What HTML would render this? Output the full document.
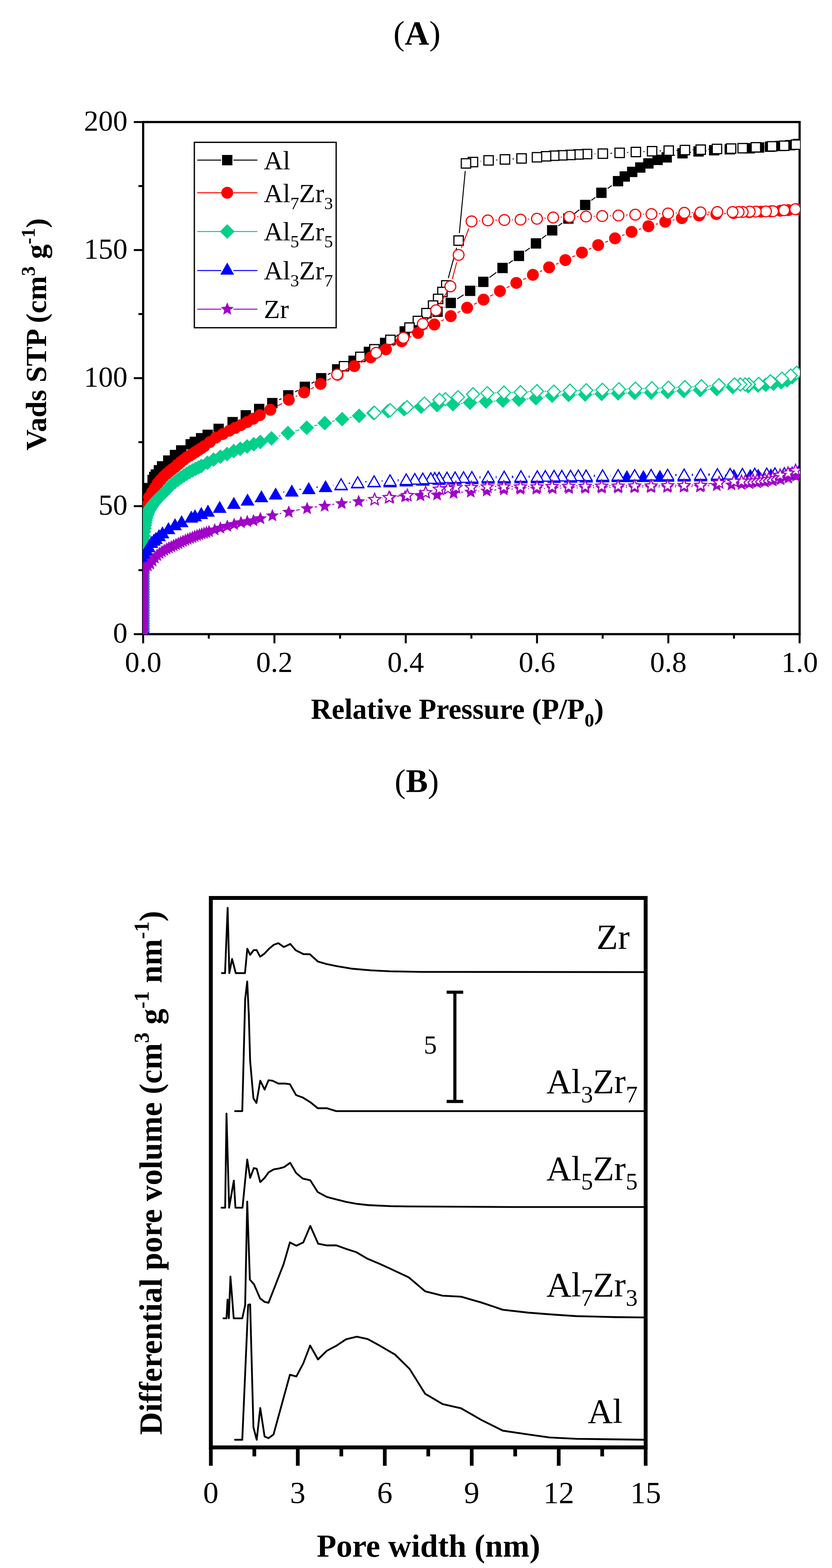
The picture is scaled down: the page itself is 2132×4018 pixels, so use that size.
<!DOCTYPE html>
<html><head><meta charset="utf-8"><title>Figure</title>
<style>html,body{margin:0;padding:0;background:#fff}svg{display:block}</style></head>
<body><svg width="2132" height="4018" viewBox="0 0 2132 4018">
<rect width="2132" height="4018" fill="#fff"/>
<text x="1068.5" y="114" text-anchor="middle" style="font-family:'Liberation Serif','Times New Roman',serif;font-size:87px">(<tspan font-weight="bold">A</tspan>)</text>
<rect x="366.8" y="312.7" width="1682.2" height="1312.3" fill="none" stroke="#000" stroke-width="5.6"/>
<path d="M366.8 1625.0V1648.5 M535.0 1625.0V1636.5 M703.2 1625.0V1648.5 M871.5 1625.0V1636.5 M1039.7 1625.0V1648.5 M1207.9 1625.0V1636.5 M1376.1 1625.0V1648.5 M1544.3 1625.0V1636.5 M1712.6 1625.0V1648.5 M1880.8 1625.0V1636.5 M2049.0 1625.0V1648.5 M366.8 1625.0H342.8 M366.8 1461.0H354.8 M366.8 1296.9H342.8 M366.8 1132.9H354.8 M366.8 968.9H342.8 M366.8 804.8H354.8 M366.8 640.8H342.8 M366.8 476.7H354.8 M366.8 312.7H342.8" stroke="#000" stroke-width="5" fill="none"/>
<defs><clipPath id="cpA"><rect x="366" y="300" width="1684" height="1325.8"/></clipPath></defs>
<g clip-path="url(#cpA)">
<path d="M715.3 1024.4L721.3 1021.5 M756.2 1004.1L763.7 1000.2 M798.4 982.2L805.7 978.4 M840.0 959.8L847.0 956.0 M881.3 937.5L888.7 933.5 M922.9 914.8L928.4 911.6 M962.4 892.5L969.8 888.3 M1003.7 868.9L1020.2 859.1 M1055.0 841.5L1057.0 840.6 M1090.7 821.4L1105.6 810.4 M1137.5 788.0L1138.9 787.1 M1171.6 765.9L1188.2 755.5 M1220.9 734.2L1222.3 733.3 M1254.3 710.9L1272.0 698.1 M1303.5 675.1L1314.1 667.4 M1345.5 644.3L1357.7 635.4 M1388.5 611.5L1399.8 602.4 M1430.7 578.7L1440.7 571.4 M1471.7 547.7L1484.4 537.5 M1515.2 513.5L1525.5 505.7 M1557.1 482.9L1567.7 475.5 M1727.3 398.2L1730.0 397.6 M1768.3 390.5L1770.6 390.2 M1809.4 386.5L1810.6 386.5 M1849.5 383.8L1850.5 383.7 M1889.5 381.5L1901.5 381.0" stroke="#000000" stroke-width="2.5" fill="none"/>
<path d="M355.8 1598.8h26.5v26.5h-26.5zM355.8 1585.8h26.5v26.5h-26.5zM355.8 1572.8h26.5v26.5h-26.5zM355.8 1559.8h26.5v26.5h-26.5zM355.8 1546.8h26.5v26.5h-26.5zM355.8 1533.8h26.5v26.5h-26.5zM355.8 1520.8h26.5v26.5h-26.5zM355.8 1507.8h26.5v26.5h-26.5zM355.8 1494.8h26.5v26.5h-26.5zM355.8 1481.8h26.5v26.5h-26.5zM355.8 1468.8h26.5v26.5h-26.5zM355.8 1455.8h26.5v26.5h-26.5zM355.8 1442.8h26.5v26.5h-26.5zM355.8 1429.8h26.5v26.5h-26.5zM355.8 1416.8h26.5v26.5h-26.5zM355.8 1403.8h26.5v26.5h-26.5zM355.8 1390.8h26.5v26.5h-26.5zM355.8 1377.8h26.5v26.5h-26.5zM355.8 1364.8h26.5v26.5h-26.5zM355.8 1351.8h26.5v26.5h-26.5zM355.8 1338.8h26.5v26.5h-26.5zM355.8 1325.8h26.5v26.5h-26.5zM355.8 1312.8h26.5v26.5h-26.5zM355.8 1299.8h26.5v26.5h-26.5zM355.8 1286.8h26.5v26.5h-26.5zM355.8 1273.8h26.5v26.5h-26.5zM355.8 1260.8h26.5v26.5h-26.5zM356.8 1239.8h26.5v26.5h-26.5zM369.6 1237.5h26.5v26.5h-26.5zM377.8 1216.8h26.5v26.5h-26.5zM381.9 1209.0h26.5v26.5h-26.5zM386.1 1202.7h26.5v26.5h-26.5zM393.9 1191.7h26.5v26.5h-26.5zM402.1 1181.8h26.5v26.5h-26.5zM417.9 1167.0h26.5v26.5h-26.5zM435.1 1152.7h26.5v26.5h-26.5zM451.1 1141.0h26.5v26.5h-26.5zM475.4 1125.2h26.5v26.5h-26.5zM485.9 1119.0h26.5v26.5h-26.5zM502.0 1109.8h26.5v26.5h-26.5zM519.0 1101.0h26.5v26.5h-26.5zM547.0 1085.8h26.5v26.5h-26.5zM582.8 1068.5h26.5v26.5h-26.5zM616.6 1051.0h26.5v26.5h-26.5zM650.9 1034.8h26.5v26.5h-26.5zM684.5 1019.7h26.5v26.5h-26.5zM725.5 999.8h26.5v26.5h-26.5zM767.9 978.0h26.5v26.5h-26.5zM809.8 956.0h26.5v26.5h-26.5zM850.8 933.2h26.5v26.5h-26.5zM892.8 911.2h26.5v26.5h-26.5zM932.0 888.6h26.5v26.5h-26.5zM973.6 865.6h26.5v26.5h-26.5zM1023.8 835.9h26.5v26.5h-26.5zM1061.8 819.8h26.5v26.5h-26.5zM1108.0 785.5h26.5v26.5h-26.5zM1141.8 763.0h26.5v26.5h-26.5zM1191.5 731.9h26.5v26.5h-26.5zM1225.2 709.1h26.5v26.5h-26.5zM1274.5 673.4h26.5v26.5h-26.5zM1316.5 642.6h26.5v26.5h-26.5zM1360.2 610.5h26.5v26.5h-26.5zM1401.7 576.9h26.5v26.5h-26.5zM1443.2 546.8h26.5v26.5h-26.5zM1486.3 512.0h26.5v26.5h-26.5zM1527.8 480.8h26.5v26.5h-26.5zM1570.5 451.1h26.5v26.5h-26.5zM1587.7 439.1h26.5v26.5h-26.5zM1606.8 427.2h26.5v26.5h-26.5zM1627.5 415.9h26.5v26.5h-26.5zM1648.3 405.4h26.5v26.5h-26.5zM1671.8 396.6h26.5v26.5h-26.5zM1695.2 389.9h26.5v26.5h-26.5zM1735.7 379.4h26.5v26.5h-26.5zM1776.8 374.8h26.5v26.5h-26.5zM1816.8 371.8h26.5v26.5h-26.5zM1856.8 369.2h26.5v26.5h-26.5zM1907.8 366.8h26.5v26.5h-26.5zM1931.8 364.8h26.5v26.5h-26.5zM1959.8 362.8h26.5v26.5h-26.5zM1986.8 360.8h26.5v26.5h-26.5zM2011.8 358.8h26.5v26.5h-26.5zM2031.8 355.8h26.5v26.5h-26.5z" fill="#000000"/>
<path d="M898.5 928.9L906.5 924.2 M940.6 905.2L942.3 904.3 M976.3 885.1L983.6 880.9 M1016.8 860.4L1032.9 850.1 M1148.8 712.5L1170.0 635.2 M1177.1 597.0L1192.2 438.2 M1231.4 413.2L1232.6 413.1 M1271.5 409.9L1274.5 409.7 M1313.5 407.4L1317.0 407.1 M1523.8 394.3L1525.3 394.3 M1564.3 392.9L1568.4 392.6 M1607.4 390.7L1609.9 390.6 M1648.9 388.6L1651.5 388.5 M1690.5 386.8L1694.1 386.7 M1733.1 385.2L1735.6 385.2 M1774.6 383.9L1776.1 383.9 M1815.1 382.7L1817.7 382.5 M1956.4 376.4L1958.9 376.3" stroke="#000000" stroke-width="2.5" fill="none"/>
<path d="M2027.5 358.8h24.0v24.0h-24.0z" fill="#fff" stroke="#000000" stroke-width="3"/>
<path d="M1997.6 361.5h24.0v24.0h-24.0z" fill="#fff" stroke="#000000" stroke-width="3"/>
<path d="M1966.4 363.1h24.0v24.0h-24.0z" fill="#fff" stroke="#000000" stroke-width="3"/>
<path d="M1924.9 365.6h24.0v24.0h-24.0z" fill="#fff" stroke="#000000" stroke-width="3"/>
<path d="M1891.1 367.7h24.0v24.0h-24.0z" fill="#fff" stroke="#000000" stroke-width="3"/>
<path d="M1861.5 368.8h24.0v24.0h-24.0z" fill="#fff" stroke="#000000" stroke-width="3"/>
<path d="M1825.2 369.8h24.0v24.0h-24.0z" fill="#fff" stroke="#000000" stroke-width="3"/>
<path d="M1783.6 371.4h24.0v24.0h-24.0z" fill="#fff" stroke="#000000" stroke-width="3"/>
<path d="M1743.1 372.4h24.0v24.0h-24.0z" fill="#fff" stroke="#000000" stroke-width="3"/>
<path d="M1701.6 374.0h24.0v24.0h-24.0z" fill="#fff" stroke="#000000" stroke-width="3"/>
<path d="M1659.0 375.5h24.0v24.0h-24.0z" fill="#fff" stroke="#000000" stroke-width="3"/>
<path d="M1617.4 377.6h24.0v24.0h-24.0z" fill="#fff" stroke="#000000" stroke-width="3"/>
<path d="M1575.9 379.7h24.0v24.0h-24.0z" fill="#fff" stroke="#000000" stroke-width="3"/>
<path d="M1532.8 381.8h24.0v24.0h-24.0z" fill="#fff" stroke="#000000" stroke-width="3"/>
<path d="M1492.3 382.8h24.0v24.0h-24.0z" fill="#fff" stroke="#000000" stroke-width="3"/>
<path d="M1470.4 383.8h24.0v24.0h-24.0z" fill="#fff" stroke="#000000" stroke-width="3"/>
<path d="M1449.7 384.9h24.0v24.0h-24.0z" fill="#fff" stroke="#000000" stroke-width="3"/>
<path d="M1428.9 385.9h24.0v24.0h-24.0z" fill="#fff" stroke="#000000" stroke-width="3"/>
<path d="M1408.1 386.9h24.0v24.0h-24.0z" fill="#fff" stroke="#000000" stroke-width="3"/>
<path d="M1387.3 388.5h24.0v24.0h-24.0z" fill="#fff" stroke="#000000" stroke-width="3"/>
<path d="M1364.0 391.1h24.0v24.0h-24.0z" fill="#fff" stroke="#000000" stroke-width="3"/>
<path d="M1324.5 394.0h24.0v24.0h-24.0z" fill="#fff" stroke="#000000" stroke-width="3"/>
<path d="M1282.0 396.5h24.0v24.0h-24.0z" fill="#fff" stroke="#000000" stroke-width="3"/>
<path d="M1240.0 399.1h24.0v24.0h-24.0z" fill="#fff" stroke="#000000" stroke-width="3"/>
<path d="M1200.0 403.2h24.0v24.0h-24.0z" fill="#fff" stroke="#000000" stroke-width="3"/>
<path d="M1182.1 406.8h24.0v24.0h-24.0z" fill="#fff" stroke="#000000" stroke-width="3"/>
<path d="M1163.2 604.4h24.0v24.0h-24.0z" fill="#fff" stroke="#000000" stroke-width="3"/>
<path d="M1131.6 719.3h24.0v24.0h-24.0z" fill="#fff" stroke="#000000" stroke-width="3"/>
<path d="M1121.7 736.3h24.0v24.0h-24.0z" fill="#fff" stroke="#000000" stroke-width="3"/>
<path d="M1110.7 754.1h24.0v24.0h-24.0z" fill="#fff" stroke="#000000" stroke-width="3"/>
<path d="M1097.8 771.1h24.0v24.0h-24.0z" fill="#fff" stroke="#000000" stroke-width="3"/>
<path d="M1080.8 790.6h24.0v24.0h-24.0z" fill="#fff" stroke="#000000" stroke-width="3"/>
<path d="M1058.8 810.5h24.0v24.0h-24.0z" fill="#fff" stroke="#000000" stroke-width="3"/>
<path d="M1037.3 827.5h24.0v24.0h-24.0z" fill="#fff" stroke="#000000" stroke-width="3"/>
<path d="M988.4 859.0h24.0v24.0h-24.0z" fill="#fff" stroke="#000000" stroke-width="3"/>
<path d="M947.5 883.0h24.0v24.0h-24.0z" fill="#fff" stroke="#000000" stroke-width="3"/>
<path d="M911.4 902.5h24.0v24.0h-24.0z" fill="#fff" stroke="#000000" stroke-width="3"/>
<path d="M869.6 926.6h24.0v24.0h-24.0z" fill="#fff" stroke="#000000" stroke-width="3"/>
<path d="M710.0 1040.8L722.9 1033.8 M757.6 1016.0L761.7 1014.0 M796.6 996.6L804.2 992.7 M838.7 974.6L847.8 969.7 M882.3 951.6L890.7 947.2 M925.2 929.1L932.8 925.0 M967.3 906.7L971.7 904.4 M1006.3 886.4L1011.9 883.5 M1046.6 865.7L1053.8 862.0 M1088.5 844.2L1095.8 840.5 M1130.5 822.7L1137.7 819.0 M1172.5 801.2L1179.7 797.5 M1214.6 779.9L1221.6 776.4 M1256.4 758.7L1263.7 755.0 M1298.4 737.3L1305.6 733.7 M1340.5 716.5L1348.1 712.8 M1383.3 696.1L1389.4 693.3 M1424.9 677.1L1430.9 674.4 M1466.5 658.4L1473.5 655.2 M1509.0 639.0L1515.1 636.2 M1550.9 620.8L1557.8 618.0 M1594.1 603.7L1600.3 601.3 M1637.0 588.0L1643.1 585.9 M1680.5 574.7L1685.8 573.3 M1723.7 564.1L1728.3 563.1 M1766.6 556.0L1772.2 555.1 M1810.9 550.6L1816.2 550.1 M1855.1 547.4L1860.5 547.1 M1899.5 545.0L1900.5 545.0" stroke="#FF0000" stroke-width="2.5" fill="none"/>
<path d="M346.8 1612.0a15.2 15.2 0 1 0 30.5 0a15.2 15.2 0 1 0 -30.5 0zM346.8 1599.0a15.2 15.2 0 1 0 30.5 0a15.2 15.2 0 1 0 -30.5 0zM346.8 1586.0a15.2 15.2 0 1 0 30.5 0a15.2 15.2 0 1 0 -30.5 0zM346.8 1573.0a15.2 15.2 0 1 0 30.5 0a15.2 15.2 0 1 0 -30.5 0zM346.8 1560.0a15.2 15.2 0 1 0 30.5 0a15.2 15.2 0 1 0 -30.5 0zM346.8 1547.0a15.2 15.2 0 1 0 30.5 0a15.2 15.2 0 1 0 -30.5 0zM346.8 1534.0a15.2 15.2 0 1 0 30.5 0a15.2 15.2 0 1 0 -30.5 0zM346.8 1521.0a15.2 15.2 0 1 0 30.5 0a15.2 15.2 0 1 0 -30.5 0zM346.8 1508.0a15.2 15.2 0 1 0 30.5 0a15.2 15.2 0 1 0 -30.5 0zM346.8 1495.0a15.2 15.2 0 1 0 30.5 0a15.2 15.2 0 1 0 -30.5 0zM346.8 1482.0a15.2 15.2 0 1 0 30.5 0a15.2 15.2 0 1 0 -30.5 0zM346.8 1469.0a15.2 15.2 0 1 0 30.5 0a15.2 15.2 0 1 0 -30.5 0zM346.8 1456.0a15.2 15.2 0 1 0 30.5 0a15.2 15.2 0 1 0 -30.5 0zM346.8 1443.0a15.2 15.2 0 1 0 30.5 0a15.2 15.2 0 1 0 -30.5 0zM346.8 1430.0a15.2 15.2 0 1 0 30.5 0a15.2 15.2 0 1 0 -30.5 0zM346.8 1417.0a15.2 15.2 0 1 0 30.5 0a15.2 15.2 0 1 0 -30.5 0zM346.8 1404.0a15.2 15.2 0 1 0 30.5 0a15.2 15.2 0 1 0 -30.5 0zM346.8 1391.0a15.2 15.2 0 1 0 30.5 0a15.2 15.2 0 1 0 -30.5 0zM346.8 1378.0a15.2 15.2 0 1 0 30.5 0a15.2 15.2 0 1 0 -30.5 0zM346.8 1365.0a15.2 15.2 0 1 0 30.5 0a15.2 15.2 0 1 0 -30.5 0zM346.8 1352.0a15.2 15.2 0 1 0 30.5 0a15.2 15.2 0 1 0 -30.5 0zM346.8 1339.0a15.2 15.2 0 1 0 30.5 0a15.2 15.2 0 1 0 -30.5 0zM346.8 1326.0a15.2 15.2 0 1 0 30.5 0a15.2 15.2 0 1 0 -30.5 0zM346.8 1313.0a15.2 15.2 0 1 0 30.5 0a15.2 15.2 0 1 0 -30.5 0zM346.8 1300.0a15.2 15.2 0 1 0 30.5 0a15.2 15.2 0 1 0 -30.5 0zM352.8 1298.0a15.2 15.2 0 1 0 30.5 0a15.2 15.2 0 1 0 -30.5 0zM366.8 1274.0a15.2 15.2 0 1 0 30.5 0a15.2 15.2 0 1 0 -30.5 0zM374.1 1261.7a15.2 15.2 0 1 0 30.5 0a15.2 15.2 0 1 0 -30.5 0zM381.6 1249.7a15.2 15.2 0 1 0 30.5 0a15.2 15.2 0 1 0 -30.5 0zM388.9 1238.3a15.2 15.2 0 1 0 30.5 0a15.2 15.2 0 1 0 -30.5 0zM396.4 1229.8a15.2 15.2 0 1 0 30.5 0a15.2 15.2 0 1 0 -30.5 0zM403.8 1221.3a15.2 15.2 0 1 0 30.5 0a15.2 15.2 0 1 0 -30.5 0zM411.1 1214.4a15.2 15.2 0 1 0 30.5 0a15.2 15.2 0 1 0 -30.5 0zM418.6 1208.2a15.2 15.2 0 1 0 30.5 0a15.2 15.2 0 1 0 -30.5 0zM425.9 1202.6a15.2 15.2 0 1 0 30.5 0a15.2 15.2 0 1 0 -30.5 0zM433.4 1197.0a15.2 15.2 0 1 0 30.5 0a15.2 15.2 0 1 0 -30.5 0zM440.8 1190.4a15.2 15.2 0 1 0 30.5 0a15.2 15.2 0 1 0 -30.5 0zM448.1 1183.9a15.2 15.2 0 1 0 30.5 0a15.2 15.2 0 1 0 -30.5 0zM455.6 1178.0a15.2 15.2 0 1 0 30.5 0a15.2 15.2 0 1 0 -30.5 0zM462.9 1172.3a15.2 15.2 0 1 0 30.5 0a15.2 15.2 0 1 0 -30.5 0zM470.4 1167.8a15.2 15.2 0 1 0 30.5 0a15.2 15.2 0 1 0 -30.5 0zM477.8 1163.4a15.2 15.2 0 1 0 30.5 0a15.2 15.2 0 1 0 -30.5 0zM485.1 1158.6a15.2 15.2 0 1 0 30.5 0a15.2 15.2 0 1 0 -30.5 0zM492.6 1153.8a15.2 15.2 0 1 0 30.5 0a15.2 15.2 0 1 0 -30.5 0zM500.0 1148.9a15.2 15.2 0 1 0 30.5 0a15.2 15.2 0 1 0 -30.5 0zM508.2 1143.2a15.2 15.2 0 1 0 30.5 0a15.2 15.2 0 1 0 -30.5 0zM522.4 1132.7a15.2 15.2 0 1 0 30.5 0a15.2 15.2 0 1 0 -30.5 0zM538.1 1121.2a15.2 15.2 0 1 0 30.5 0a15.2 15.2 0 1 0 -30.5 0zM555.6 1112.2a15.2 15.2 0 1 0 30.5 0a15.2 15.2 0 1 0 -30.5 0zM572.4 1103.8a15.2 15.2 0 1 0 30.5 0a15.2 15.2 0 1 0 -30.5 0zM587.2 1096.6a15.2 15.2 0 1 0 30.5 0a15.2 15.2 0 1 0 -30.5 0zM602.1 1089.3a15.2 15.2 0 1 0 30.5 0a15.2 15.2 0 1 0 -30.5 0zM618.0 1081.4a15.2 15.2 0 1 0 30.5 0a15.2 15.2 0 1 0 -30.5 0zM633.8 1072.9a15.2 15.2 0 1 0 30.5 0a15.2 15.2 0 1 0 -30.5 0zM650.5 1063.7a15.2 15.2 0 1 0 30.5 0a15.2 15.2 0 1 0 -30.5 0zM677.6 1050.1a15.2 15.2 0 1 0 30.5 0a15.2 15.2 0 1 0 -30.5 0zM724.8 1024.5a15.2 15.2 0 1 0 30.5 0a15.2 15.2 0 1 0 -30.5 0zM764.0 1005.5a15.2 15.2 0 1 0 30.5 0a15.2 15.2 0 1 0 -30.5 0zM806.2 983.8a15.2 15.2 0 1 0 30.5 0a15.2 15.2 0 1 0 -30.5 0zM849.8 960.5a15.2 15.2 0 1 0 30.5 0a15.2 15.2 0 1 0 -30.5 0zM892.8 938.3a15.2 15.2 0 1 0 30.5 0a15.2 15.2 0 1 0 -30.5 0zM934.8 915.8a15.2 15.2 0 1 0 30.5 0a15.2 15.2 0 1 0 -30.5 0zM973.8 895.3a15.2 15.2 0 1 0 30.5 0a15.2 15.2 0 1 0 -30.5 0zM1014.0 874.6a15.2 15.2 0 1 0 30.5 0a15.2 15.2 0 1 0 -30.5 0zM1056.0 853.1a15.2 15.2 0 1 0 30.5 0a15.2 15.2 0 1 0 -30.5 0zM1097.8 831.6a15.2 15.2 0 1 0 30.5 0a15.2 15.2 0 1 0 -30.5 0zM1139.8 810.1a15.2 15.2 0 1 0 30.5 0a15.2 15.2 0 1 0 -30.5 0zM1181.8 788.6a15.2 15.2 0 1 0 30.5 0a15.2 15.2 0 1 0 -30.5 0zM1223.8 767.7a15.2 15.2 0 1 0 30.5 0a15.2 15.2 0 1 0 -30.5 0zM1265.8 746.0a15.2 15.2 0 1 0 30.5 0a15.2 15.2 0 1 0 -30.5 0zM1307.8 725.0a15.2 15.2 0 1 0 30.5 0a15.2 15.2 0 1 0 -30.5 0zM1350.3 704.3a15.2 15.2 0 1 0 30.5 0a15.2 15.2 0 1 0 -30.5 0zM1391.8 685.1a15.2 15.2 0 1 0 30.5 0a15.2 15.2 0 1 0 -30.5 0zM1433.5 666.4a15.2 15.2 0 1 0 30.5 0a15.2 15.2 0 1 0 -30.5 0zM1476.0 647.2a15.2 15.2 0 1 0 30.5 0a15.2 15.2 0 1 0 -30.5 0zM1517.5 628.0a15.2 15.2 0 1 0 30.5 0a15.2 15.2 0 1 0 -30.5 0zM1560.7 610.8a15.2 15.2 0 1 0 30.5 0a15.2 15.2 0 1 0 -30.5 0zM1603.2 594.2a15.2 15.2 0 1 0 30.5 0a15.2 15.2 0 1 0 -30.5 0zM1646.3 579.7a15.2 15.2 0 1 0 30.5 0a15.2 15.2 0 1 0 -30.5 0zM1689.5 568.3a15.2 15.2 0 1 0 30.5 0a15.2 15.2 0 1 0 -30.5 0zM1732.0 558.9a15.2 15.2 0 1 0 30.5 0a15.2 15.2 0 1 0 -30.5 0zM1776.2 552.2a15.2 15.2 0 1 0 30.5 0a15.2 15.2 0 1 0 -30.5 0zM1820.3 548.5a15.2 15.2 0 1 0 30.5 0a15.2 15.2 0 1 0 -30.5 0zM1864.8 546.0a15.2 15.2 0 1 0 30.5 0a15.2 15.2 0 1 0 -30.5 0zM1904.8 544.0a15.2 15.2 0 1 0 30.5 0a15.2 15.2 0 1 0 -30.5 0zM1934.8 542.5a15.2 15.2 0 1 0 30.5 0a15.2 15.2 0 1 0 -30.5 0zM1959.8 541.5a15.2 15.2 0 1 0 30.5 0a15.2 15.2 0 1 0 -30.5 0zM1984.8 540.0a15.2 15.2 0 1 0 30.5 0a15.2 15.2 0 1 0 -30.5 0zM2004.8 538.5a15.2 15.2 0 1 0 30.5 0a15.2 15.2 0 1 0 -30.5 0zM2026.8 536.0a15.2 15.2 0 1 0 30.5 0a15.2 15.2 0 1 0 -30.5 0z" fill="#FF0000"/>
<path d="M881.0 950.0L946.9 913.5 M981.1 894.6L1016.7 874.9 M1049.6 854.1L1067.7 841.2 M1097.1 815.9L1103.9 808.9 M1127.5 778.3L1144.1 750.6 M1159.0 715.0L1170.3 672.2 M1182.2 635.1L1201.4 585.5 M1227.9 566.1L1230.5 565.9 M1269.5 564.2L1272.9 564.2 M1311.9 563.2L1314.4 563.2 M1353.4 561.7L1356.4 561.5 M1395.3 559.1L1398.1 558.8 M1437.0 556.7L1439.6 556.5 M1478.6 555.3L1482.2 555.3 M1521.2 554.3L1523.7 554.2 M1562.7 553.0L1565.3 552.9 M1604.3 551.3L1608.4 551.0 M1647.4 549.3L1649.9 549.3 M1688.9 547.8L1692.5 547.7 M1731.5 546.3L1734.1 546.1 M1773.1 544.9L1775.6 544.9 M1814.6 543.9L1818.7 543.8" stroke="#FF0000" stroke-width="2.5" fill="none"/>
<path d="M2024.1 536.1a13.8 13.8 0 1 0 27.6 0a13.8 13.8 0 1 0 -27.6 0z" fill="#fff" stroke="#FF0000" stroke-width="3"/>
<path d="M1995.5 538.7a13.8 13.8 0 1 0 27.6 0a13.8 13.8 0 1 0 -27.6 0z" fill="#fff" stroke="#FF0000" stroke-width="3"/>
<path d="M1966.9 541.3a13.8 13.8 0 1 0 27.6 0a13.8 13.8 0 1 0 -27.6 0z" fill="#fff" stroke="#FF0000" stroke-width="3"/>
<path d="M1948.9 541.8a13.8 13.8 0 1 0 27.6 0a13.8 13.8 0 1 0 -27.6 0z" fill="#fff" stroke="#FF0000" stroke-width="3"/>
<path d="M1922.9 542.3a13.8 13.8 0 1 0 27.6 0a13.8 13.8 0 1 0 -27.6 0z" fill="#fff" stroke="#FF0000" stroke-width="3"/>
<path d="M1907.3 542.3a13.8 13.8 0 1 0 27.6 0a13.8 13.8 0 1 0 -27.6 0z" fill="#fff" stroke="#FF0000" stroke-width="3"/>
<path d="M1889.3 543.3a13.8 13.8 0 1 0 27.6 0a13.8 13.8 0 1 0 -27.6 0z" fill="#fff" stroke="#FF0000" stroke-width="3"/>
<path d="M1878.9 543.3a13.8 13.8 0 1 0 27.6 0a13.8 13.8 0 1 0 -27.6 0z" fill="#fff" stroke="#FF0000" stroke-width="3"/>
<path d="M1863.4 543.3a13.8 13.8 0 1 0 27.6 0a13.8 13.8 0 1 0 -27.6 0z" fill="#fff" stroke="#FF0000" stroke-width="3"/>
<path d="M1824.4 543.3a13.8 13.8 0 1 0 27.6 0a13.8 13.8 0 1 0 -27.6 0z" fill="#fff" stroke="#FF0000" stroke-width="3"/>
<path d="M1781.3 544.4a13.8 13.8 0 1 0 27.6 0a13.8 13.8 0 1 0 -27.6 0z" fill="#fff" stroke="#FF0000" stroke-width="3"/>
<path d="M1739.8 545.4a13.8 13.8 0 1 0 27.6 0a13.8 13.8 0 1 0 -27.6 0z" fill="#fff" stroke="#FF0000" stroke-width="3"/>
<path d="M1698.2 547.0a13.8 13.8 0 1 0 27.6 0a13.8 13.8 0 1 0 -27.6 0z" fill="#fff" stroke="#FF0000" stroke-width="3"/>
<path d="M1655.6 548.5a13.8 13.8 0 1 0 27.6 0a13.8 13.8 0 1 0 -27.6 0z" fill="#fff" stroke="#FF0000" stroke-width="3"/>
<path d="M1614.1 550.1a13.8 13.8 0 1 0 27.6 0a13.8 13.8 0 1 0 -27.6 0z" fill="#fff" stroke="#FF0000" stroke-width="3"/>
<path d="M1571.0 552.2a13.8 13.8 0 1 0 27.6 0a13.8 13.8 0 1 0 -27.6 0z" fill="#fff" stroke="#FF0000" stroke-width="3"/>
<path d="M1529.4 553.7a13.8 13.8 0 1 0 27.6 0a13.8 13.8 0 1 0 -27.6 0z" fill="#fff" stroke="#FF0000" stroke-width="3"/>
<path d="M1487.9 554.8a13.8 13.8 0 1 0 27.6 0a13.8 13.8 0 1 0 -27.6 0z" fill="#fff" stroke="#FF0000" stroke-width="3"/>
<path d="M1445.3 555.8a13.8 13.8 0 1 0 27.6 0a13.8 13.8 0 1 0 -27.6 0z" fill="#fff" stroke="#FF0000" stroke-width="3"/>
<path d="M1403.7 557.4a13.8 13.8 0 1 0 27.6 0a13.8 13.8 0 1 0 -27.6 0z" fill="#fff" stroke="#FF0000" stroke-width="3"/>
<path d="M1362.1 560.5a13.8 13.8 0 1 0 27.6 0a13.8 13.8 0 1 0 -27.6 0z" fill="#fff" stroke="#FF0000" stroke-width="3"/>
<path d="M1320.1 562.7a13.8 13.8 0 1 0 27.6 0a13.8 13.8 0 1 0 -27.6 0z" fill="#fff" stroke="#FF0000" stroke-width="3"/>
<path d="M1278.6 563.7a13.8 13.8 0 1 0 27.6 0a13.8 13.8 0 1 0 -27.6 0z" fill="#fff" stroke="#FF0000" stroke-width="3"/>
<path d="M1236.2 564.7a13.8 13.8 0 1 0 27.6 0a13.8 13.8 0 1 0 -27.6 0z" fill="#fff" stroke="#FF0000" stroke-width="3"/>
<path d="M1194.6 567.3a13.8 13.8 0 1 0 27.6 0a13.8 13.8 0 1 0 -27.6 0z" fill="#fff" stroke="#FF0000" stroke-width="3"/>
<path d="M1161.4 653.3a13.8 13.8 0 1 0 27.6 0a13.8 13.8 0 1 0 -27.6 0z" fill="#fff" stroke="#FF0000" stroke-width="3"/>
<path d="M1140.3 733.9a13.8 13.8 0 1 0 27.6 0a13.8 13.8 0 1 0 -27.6 0z" fill="#fff" stroke="#FF0000" stroke-width="3"/>
<path d="M1103.7 795.0a13.8 13.8 0 1 0 27.6 0a13.8 13.8 0 1 0 -27.6 0z" fill="#fff" stroke="#FF0000" stroke-width="3"/>
<path d="M1069.7 829.8a13.8 13.8 0 1 0 27.6 0a13.8 13.8 0 1 0 -27.6 0z" fill="#fff" stroke="#FF0000" stroke-width="3"/>
<path d="M1020.0 865.5a13.8 13.8 0 1 0 27.6 0a13.8 13.8 0 1 0 -27.6 0z" fill="#fff" stroke="#FF0000" stroke-width="3"/>
<path d="M950.2 904.0a13.8 13.8 0 1 0 27.6 0a13.8 13.8 0 1 0 -27.6 0z" fill="#fff" stroke="#FF0000" stroke-width="3"/>
<path d="M850.1 959.5a13.8 13.8 0 1 0 27.6 0a13.8 13.8 0 1 0 -27.6 0z" fill="#fff" stroke="#FF0000" stroke-width="3"/>
<path d="M714.2 1117.3L719.2 1115.7 M756.6 1104.4L767.2 1101.4 M804.9 1091.3L813.2 1089.1 M851.1 1080.0L857.7 1078.4 M895.8 1070.3L901.1 1069.2 M1013.8 1051.2L1016.0 1050.9 M1054.7 1045.7L1059.6 1045.1 M1098.3 1040.4L1100.5 1040.1 M1139.4 1037.0L1141.3 1036.9 M1180.2 1034.1L1185.0 1033.7 M1223.8 1030.6L1225.9 1030.5 M1264.8 1027.9L1269.3 1027.6 M1308.3 1025.3L1310.3 1025.1 M1349.2 1022.4L1353.9 1022.0 M1392.6 1017.5L1395.5 1017.0 M1434.3 1013.0L1437.6 1012.9 M1476.6 1011.4L1479.9 1011.4 M1518.9 1010.2L1522.2 1010.1 M1561.2 1008.7L1564.5 1008.6 M1603.5 1007.5L1606.8 1007.4 M1645.8 1006.5L1649.0 1006.5 M1688.0 1005.3L1691.3 1005.2 M1730.3 1003.3L1732.6 1003.2 M1771.6 1000.8L1774.4 1000.7 M1813.4 998.4L1817.2 998.1 M1856.1 994.6L1858.1 994.4 M1897.0 990.8L1897.8 990.7" stroke="#00D08C" stroke-width="2.5" fill="none"/>
<path d="M366.5 1599.2L385.2 1618.0L366.5 1636.8L347.8 1618.0zM366.5 1592.5L385.2 1611.2L366.5 1630.0L347.8 1611.2zM366.5 1585.8L385.2 1604.5L366.5 1623.2L347.8 1604.5zM366.5 1579.0L385.2 1597.8L366.5 1616.5L347.8 1597.8zM366.5 1572.2L385.2 1591.0L366.5 1609.8L347.8 1591.0zM366.5 1565.5L385.2 1584.2L366.5 1603.0L347.8 1584.2zM366.5 1558.8L385.2 1577.5L366.5 1596.2L347.8 1577.5zM366.5 1552.0L385.2 1570.8L366.5 1589.5L347.8 1570.8zM366.5 1545.2L385.2 1564.0L366.5 1582.8L347.8 1564.0zM366.5 1538.5L385.2 1557.2L366.5 1576.0L347.8 1557.2zM366.5 1531.8L385.2 1550.5L366.5 1569.2L347.8 1550.5zM366.5 1525.0L385.2 1543.8L366.5 1562.5L347.8 1543.8zM366.5 1518.2L385.2 1537.0L366.5 1555.8L347.8 1537.0zM366.5 1511.5L385.2 1530.2L366.5 1549.0L347.8 1530.2zM366.5 1504.8L385.2 1523.5L366.5 1542.2L347.8 1523.5zM366.5 1498.0L385.2 1516.8L366.5 1535.5L347.8 1516.8zM366.5 1491.2L385.2 1510.0L366.5 1528.8L347.8 1510.0zM366.5 1484.5L385.2 1503.2L366.5 1522.0L347.8 1503.2zM366.5 1477.8L385.2 1496.5L366.5 1515.2L347.8 1496.5zM366.5 1471.0L385.2 1489.8L366.5 1508.5L347.8 1489.8zM366.5 1464.2L385.2 1483.0L366.5 1501.8L347.8 1483.0zM366.5 1457.5L385.2 1476.2L366.5 1495.0L347.8 1476.2zM366.5 1450.8L385.2 1469.5L366.5 1488.2L347.8 1469.5zM366.5 1444.0L385.2 1462.8L366.5 1481.5L347.8 1462.8zM366.5 1437.2L385.2 1456.0L366.5 1474.8L347.8 1456.0zM366.5 1430.5L385.2 1449.2L366.5 1468.0L347.8 1449.2zM366.5 1423.8L385.2 1442.5L366.5 1461.2L347.8 1442.5zM366.5 1417.0L385.2 1435.8L366.5 1454.5L347.8 1435.8zM366.5 1410.2L385.2 1429.0L366.5 1447.8L347.8 1429.0zM366.5 1403.5L385.2 1422.2L366.5 1441.0L347.8 1422.2zM366.5 1396.8L385.2 1415.5L366.5 1434.2L347.8 1415.5zM366.5 1390.0L385.2 1408.8L366.5 1427.5L347.8 1408.8zM366.5 1383.2L385.2 1402.0L366.5 1420.8L347.8 1402.0zM366.5 1376.5L385.2 1395.2L366.5 1414.0L347.8 1395.2zM368.0 1366.2L386.8 1385.0L368.0 1403.8L349.2 1385.0zM368.5 1354.8L387.2 1373.5L368.5 1392.2L349.8 1373.5zM369.0 1343.2L387.8 1362.0L369.0 1380.8L350.2 1362.0zM370.0 1335.2L388.8 1354.0L370.0 1372.8L351.2 1354.0zM371.0 1327.2L389.8 1346.0L371.0 1364.8L352.2 1346.0zM372.0 1320.8L390.8 1339.5L372.0 1358.2L353.2 1339.5zM373.0 1314.2L391.8 1333.0L373.0 1351.8L354.2 1333.0zM374.5 1308.2L393.2 1327.0L374.5 1345.8L355.8 1327.0zM376.0 1302.2L394.8 1321.0L376.0 1339.8L357.2 1321.0zM378.0 1297.2L396.8 1316.0L378.0 1334.8L359.2 1316.0zM380.0 1292.2L398.8 1311.0L380.0 1329.8L361.2 1311.0zM383.0 1287.2L401.8 1306.0L383.0 1324.8L364.2 1306.0zM386.0 1282.2L404.8 1301.0L386.0 1319.8L367.2 1301.0zM389.5 1277.2L408.2 1296.0L389.5 1314.8L370.8 1296.0zM393.0 1272.2L411.8 1291.0L393.0 1309.8L374.2 1291.0zM396.5 1268.2L415.2 1287.0L396.5 1305.8L377.8 1287.0zM400.0 1264.2L418.8 1283.0L400.0 1301.8L381.2 1283.0zM403.0 1260.8L421.8 1279.5L403.0 1298.2L384.2 1279.5zM406.0 1257.2L424.8 1276.0L406.0 1294.8L387.2 1276.0zM411.0 1252.7L429.8 1271.4L411.0 1290.2L392.2 1271.4zM418.5 1245.7L437.2 1264.5L418.5 1283.2L399.8 1264.5zM426.0 1237.6L444.8 1256.3L426.0 1275.1L407.2 1256.3zM433.5 1229.4L452.2 1248.2L433.5 1266.9L414.8 1248.2zM441.0 1221.5L459.8 1240.3L441.0 1259.0L422.2 1240.3zM448.5 1216.0L467.2 1234.8L448.5 1253.5L429.8 1234.8zM456.0 1210.5L474.8 1229.3L456.0 1248.0L437.2 1229.3zM463.5 1205.0L482.2 1223.8L463.5 1242.5L444.8 1223.8zM471.0 1199.7L489.8 1218.4L471.0 1237.2L452.2 1218.4zM478.5 1195.2L497.2 1213.9L478.5 1232.7L459.8 1213.9zM486.0 1190.7L504.8 1209.4L486.0 1228.2L467.2 1209.4zM493.5 1186.5L512.2 1205.2L493.5 1224.0L474.8 1205.2zM501.0 1182.7L519.8 1201.5L501.0 1220.2L482.2 1201.5zM508.5 1178.9L527.2 1197.7L508.5 1216.4L489.8 1197.7zM516.0 1175.2L534.8 1193.9L516.0 1212.7L497.2 1193.9zM531.4 1166.9L550.1 1185.7L531.4 1204.4L512.6 1185.7zM547.2 1159.1L566.0 1177.8L547.2 1196.6L528.5 1177.8zM564.8 1151.6L583.5 1170.3L564.8 1189.1L546.0 1170.3zM581.8 1144.8L600.5 1163.5L581.8 1182.3L563.0 1163.5zM599.0 1137.1L617.8 1155.9L599.0 1174.6L580.2 1155.9zM615.7 1131.2L634.5 1150.0L615.7 1168.7L597.0 1150.0zM633.2 1125.3L652.0 1144.1L633.2 1162.8L614.5 1144.1zM650.3 1119.5L669.0 1138.3L650.3 1157.0L631.5 1138.3zM667.1 1113.8L685.9 1132.5L667.1 1151.3L648.4 1132.5zM695.6 1104.6L714.4 1123.3L695.6 1142.1L676.9 1123.3zM737.8 1091.0L756.5 1109.7L737.8 1128.5L719.0 1109.7zM786.0 1077.3L804.8 1096.1L786.0 1114.8L767.2 1096.1zM832.1 1065.5L850.9 1084.3L832.1 1103.0L813.4 1084.3zM876.7 1055.3L895.5 1074.1L876.7 1092.8L858.0 1074.1zM920.2 1046.7L939.0 1065.4L920.2 1084.2L901.5 1065.4zM957.0 1039.8L975.8 1058.5L957.0 1077.2L938.2 1058.5zM994.4 1034.8L1013.1 1053.6L994.4 1072.3L975.6 1053.6zM1035.4 1029.8L1054.2 1048.5L1035.4 1067.2L1016.7 1048.5zM1078.9 1023.5L1097.7 1042.3L1078.9 1061.0L1060.2 1042.3zM1119.9 1019.5L1138.7 1038.2L1119.9 1057.0L1101.2 1038.2zM1160.8 1017.0L1179.5 1035.7L1160.8 1054.5L1142.0 1035.7zM1204.4 1013.3L1223.2 1032.1L1204.4 1050.8L1185.7 1032.1zM1245.3 1010.2L1264.0 1029.0L1245.3 1047.8L1226.5 1029.0zM1288.8 1007.8L1307.5 1026.5L1288.8 1045.2L1270.0 1026.5zM1329.8 1005.1L1348.5 1023.9L1329.8 1042.7L1311.0 1023.9zM1373.3 1001.8L1392.0 1020.5L1373.3 1039.2L1354.5 1020.5zM1414.8 995.2L1433.5 1014.0L1414.8 1032.8L1396.0 1014.0zM1457.1 993.1L1475.8 1011.9L1457.1 1030.7L1438.3 1011.9zM1499.4 992.1L1518.2 1010.9L1499.4 1029.7L1480.7 1010.9zM1541.7 990.6L1560.5 1009.4L1541.7 1028.2L1523.0 1009.4zM1584.0 989.1L1602.8 1007.9L1584.0 1026.7L1565.2 1007.9zM1626.3 988.2L1645.0 1007.0L1626.3 1025.8L1607.5 1007.0zM1668.5 987.2L1687.2 1006.0L1668.5 1024.8L1649.8 1006.0zM1710.8 985.8L1729.5 1004.5L1710.8 1023.2L1692.0 1004.5zM1752.1 983.2L1770.8 1002.0L1752.1 1020.8L1733.3 1002.0zM1793.9 980.8L1812.7 999.5L1793.9 1018.2L1775.2 999.5zM1836.7 978.2L1855.5 997.0L1836.7 1015.8L1818.0 997.0zM1877.5 973.2L1896.2 992.0L1877.5 1010.8L1858.8 992.0zM1917.3 970.8L1936.0 989.5L1917.3 1008.2L1898.5 989.5zM1942.2 969.2L1961.0 988.0L1942.2 1006.8L1923.5 988.0zM1962.2 967.2L1981.0 986.0L1962.2 1004.8L1943.5 986.0zM1982.0 964.4L2000.8 983.1L1982.0 1001.9L1963.2 983.1zM2001.8 960.9L2020.5 979.6L2001.8 998.4L1983.0 979.6zM2016.8 955.9L2035.5 974.6L2016.8 993.4L1998.0 974.6zM2030.0 947.8L2048.8 966.5L2030.0 985.2L2011.2 966.5zM2042.0 936.8L2060.8 955.5L2042.0 974.2L2023.2 955.5z" fill="#00D08C"/>
<path d="M978.8 1054.5L980.9 1054.2 M1019.3 1047.6L1023.9 1046.8 M1062.2 1039.5L1068.5 1038.1 M1268.4 1006.8L1271.9 1006.7 M1310.9 1005.5L1314.4 1005.5 M1353.4 1003.8L1356.4 1003.6 M1395.4 1002.9L1399.8 1003.0 M1438.8 1002.3L1441.1 1002.2 M1480.1 1000.5L1482.9 1000.5 M1521.9 999.5L1524.2 999.5 M1563.2 998.3L1566.5 998.2 M1605.5 996.8L1608.8 996.7 M1647.8 995.5L1651.0 995.5 M1690.0 994.3L1693.3 994.2 M1732.3 992.8L1735.6 992.7 M1774.6 991.1L1777.9 990.9 M1816.9 988.7L1822.7 988.4 M1861.7 986.1L1862.5 986.1" stroke="#00D08C" stroke-width="2.5" fill="none"/>
<path d="M2041.2 938.5L2057.9 955.2L2041.2 972.0L2024.5 955.2z" fill="#fff" stroke="#00D08C" stroke-width="3"/>
<path d="M2026.2 945.5L2043.0 962.2L2026.2 979.0L2009.5 962.2z" fill="#fff" stroke="#00D08C" stroke-width="3"/>
<path d="M2003.8 953.5L2020.5 970.2L2003.8 987.0L1987.0 970.2z" fill="#fff" stroke="#00D08C" stroke-width="3"/>
<path d="M1974.0 960.4L1990.8 977.1L1974.0 993.9L1957.2 977.1z" fill="#fff" stroke="#00D08C" stroke-width="3"/>
<path d="M1944.2 966.9L1961.0 983.6L1944.2 1000.4L1927.5 983.6z" fill="#fff" stroke="#00D08C" stroke-width="3"/>
<path d="M1919.0 968.4L1935.8 985.1L1919.0 1001.9L1902.2 985.1z" fill="#fff" stroke="#00D08C" stroke-width="3"/>
<path d="M1909.4 968.4L1926.2 985.1L1909.4 1001.9L1892.7 985.1z" fill="#fff" stroke="#00D08C" stroke-width="3"/>
<path d="M1897.0 968.4L1913.8 985.1L1897.0 1001.9L1880.2 985.1z" fill="#fff" stroke="#00D08C" stroke-width="3"/>
<path d="M1882.0 968.4L1898.8 985.1L1882.0 1001.9L1865.2 985.1z" fill="#fff" stroke="#00D08C" stroke-width="3"/>
<path d="M1842.2 970.4L1859.0 987.1L1842.2 1003.9L1825.5 987.1z" fill="#fff" stroke="#00D08C" stroke-width="3"/>
<path d="M1797.4 973.2L1814.2 990.0L1797.4 1006.8L1780.7 990.0z" fill="#fff" stroke="#00D08C" stroke-width="3"/>
<path d="M1755.1 975.2L1771.8 992.0L1755.1 1008.8L1738.3 992.0z" fill="#fff" stroke="#00D08C" stroke-width="3"/>
<path d="M1712.8 976.8L1729.5 993.5L1712.8 1010.2L1696.0 993.5z" fill="#fff" stroke="#00D08C" stroke-width="3"/>
<path d="M1670.5 978.2L1687.2 995.0L1670.5 1011.8L1653.8 995.0z" fill="#fff" stroke="#00D08C" stroke-width="3"/>
<path d="M1628.3 979.2L1645.0 996.0L1628.3 1012.8L1611.5 996.0z" fill="#fff" stroke="#00D08C" stroke-width="3"/>
<path d="M1586.0 980.8L1602.8 997.5L1586.0 1014.2L1569.2 997.5z" fill="#fff" stroke="#00D08C" stroke-width="3"/>
<path d="M1543.7 982.2L1560.5 999.0L1543.7 1015.8L1527.0 999.0z" fill="#fff" stroke="#00D08C" stroke-width="3"/>
<path d="M1502.4 983.2L1519.2 1000.0L1502.4 1016.8L1485.7 1000.0z" fill="#fff" stroke="#00D08C" stroke-width="3"/>
<path d="M1460.6 984.2L1477.3 1001.0L1460.6 1017.8L1443.8 1001.0z" fill="#fff" stroke="#00D08C" stroke-width="3"/>
<path d="M1419.3 986.8L1436.0 1003.5L1419.3 1020.2L1402.5 1003.5z" fill="#fff" stroke="#00D08C" stroke-width="3"/>
<path d="M1375.9 985.6L1392.7 1002.4L1375.9 1019.1L1359.2 1002.4z" fill="#fff" stroke="#00D08C" stroke-width="3"/>
<path d="M1333.9 988.2L1350.7 1005.0L1333.9 1021.8L1317.2 1005.0z" fill="#fff" stroke="#00D08C" stroke-width="3"/>
<path d="M1291.4 989.2L1308.2 1006.0L1291.4 1022.8L1274.7 1006.0z" fill="#fff" stroke="#00D08C" stroke-width="3"/>
<path d="M1248.9 990.8L1265.7 1007.5L1248.9 1024.2L1232.2 1007.5z" fill="#fff" stroke="#00D08C" stroke-width="3"/>
<path d="M1212.0 993.4L1228.8 1010.1L1212.0 1026.8L1195.2 1010.1z" fill="#fff" stroke="#00D08C" stroke-width="3"/>
<path d="M1173.6 1001.0L1190.3 1017.8L1173.6 1034.5L1156.8 1017.8z" fill="#fff" stroke="#00D08C" stroke-width="3"/>
<path d="M1141.4 1006.1L1158.2 1022.9L1141.4 1039.7L1124.7 1022.9z" fill="#fff" stroke="#00D08C" stroke-width="3"/>
<path d="M1126.0 1007.7L1142.8 1024.4L1126.0 1041.2L1109.2 1024.4z" fill="#fff" stroke="#00D08C" stroke-width="3"/>
<path d="M1087.6 1017.5L1104.3 1034.2L1087.6 1051.0L1070.8 1034.2z" fill="#fff" stroke="#00D08C" stroke-width="3"/>
<path d="M1043.1 1026.7L1059.8 1043.4L1043.1 1060.2L1026.3 1043.4z" fill="#fff" stroke="#00D08C" stroke-width="3"/>
<path d="M1000.1 1034.2L1016.9 1051.0L1000.1 1067.8L983.4 1051.0z" fill="#fff" stroke="#00D08C" stroke-width="3"/>
<path d="M959.6 1041.0L976.4 1057.7L959.6 1074.5L942.9 1057.7z" fill="#fff" stroke="#00D08C" stroke-width="3"/>
<path d="M725.6 1261.0L728.6 1260.5 M767.1 1254.2L771.8 1253.5 M810.5 1248.4L814.8 1247.9 M853.6 1243.4L854.7 1243.2 M893.5 1238.7L897.2 1238.2 M936.1 1234.7L939.1 1234.5 M978.1 1233.3L980.0 1233.3 M1019.0 1232.2L1021.5 1232.1 M1060.5 1230.1L1063.9 1229.9 M1102.9 1228.1L1105.7 1227.9 M1144.7 1226.5L1146.7 1226.5 M1185.7 1225.5L1189.7 1225.5 M1228.7 1224.5L1231.3 1224.5 M1270.3 1224.0L1272.5 1224.0 M1311.5 1223.5L1315.5 1223.5 M1354.5 1223.0L1357.4 1223.0 M1396.4 1222.5L1400.3 1222.5 M1439.3 1221.8L1442.6 1221.7 M1481.6 1221.3L1482.4 1221.2 M1521.4 1220.8L1524.7 1220.7 M1563.7 1220.3L1564.5 1220.2 M1625.9 1219.9L1629.2 1219.9 M1668.2 1219.5L1671.5 1219.5 M1730.3 1218.8L1733.6 1218.7 M1772.6 1218.3L1775.9 1218.2 M1814.9 1217.8L1818.9 1217.7 M1857.9 1217.3L1861.1 1217.2 M1900.1 1216.9L1903.2 1216.8" stroke="#0000FF" stroke-width="2.5" fill="none"/>
<path d="M380.0 1617.5L397.8 1648.5L362.2 1648.5zM360.0 1584.5L377.8 1615.5L342.2 1615.5zM360.0 1572.5L377.8 1603.5L342.2 1603.5zM360.0 1560.5L377.8 1591.5L342.2 1591.5zM360.0 1548.5L377.8 1579.5L342.2 1579.5zM360.0 1536.5L377.8 1567.5L342.2 1567.5zM360.0 1524.5L377.8 1555.5L342.2 1555.5zM360.0 1512.5L377.8 1543.5L342.2 1543.5zM360.0 1500.5L377.8 1531.5L342.2 1531.5zM360.0 1488.5L377.8 1519.5L342.2 1519.5zM360.0 1476.5L377.8 1507.5L342.2 1507.5zM360.0 1464.5L377.8 1495.5L342.2 1495.5zM360.0 1452.5L377.8 1483.5L342.2 1483.5zM360.0 1440.5L377.8 1471.5L342.2 1471.5zM360.0 1428.5L377.8 1459.5L342.2 1459.5zM367.0 1412.5L384.8 1443.5L349.2 1443.5zM371.0 1403.3L388.8 1434.3L353.2 1434.3zM375.5 1393.0L393.2 1424.0L357.8 1424.0zM381.0 1384.2L398.8 1415.2L363.2 1415.2zM388.0 1372.9L405.8 1403.9L370.2 1403.9zM394.4 1367.3L412.1 1398.3L376.6 1398.3zM399.5 1362.9L417.2 1393.9L381.8 1393.9zM407.5 1355.8L425.2 1386.8L389.8 1386.8zM416.3 1348.5L434.1 1379.5L398.6 1379.5zM431.7 1337.7L449.4 1368.7L413.9 1368.7zM448.5 1327.8L466.2 1358.8L430.8 1358.8zM465.3 1320.1L483.1 1351.1L447.6 1351.1zM490.2 1308.2L507.9 1339.2L472.4 1339.2zM499.7 1304.9L517.5 1335.9L481.9 1335.9zM515.8 1299.0L533.5 1330.0L498.0 1330.0zM532.9 1293.0L550.6 1324.0L515.1 1324.0zM562.9 1283.2L580.6 1314.2L545.1 1314.2zM599.2 1273.1L617.0 1304.1L581.5 1304.1zM634.3 1264.5L652.0 1295.5L616.5 1295.5zM669.9 1256.0L687.6 1287.0L652.1 1287.0zM706.4 1249.0L724.1 1280.0L688.6 1280.0zM747.8 1241.5L765.5 1272.5L730.0 1272.5zM791.1 1235.2L808.9 1266.2L773.4 1266.2zM834.2 1230.1L852.0 1261.1L816.5 1261.1zM874.1 1225.5L891.9 1256.5L856.4 1256.5zM916.6 1220.4L934.4 1251.4L898.9 1251.4zM958.6 1217.8L976.4 1248.8L940.9 1248.8zM999.5 1217.8L1017.2 1248.8L981.8 1248.8zM1041.0 1215.5L1058.8 1246.5L1023.2 1246.5zM1083.4 1213.5L1101.2 1244.5L1065.7 1244.5zM1125.2 1211.5L1143.0 1242.5L1107.5 1242.5zM1166.2 1210.5L1184.0 1241.5L1148.5 1241.5zM1209.2 1209.5L1227.0 1240.5L1191.5 1240.5zM1250.8 1208.5L1268.5 1239.5L1233.0 1239.5zM1292.0 1208.5L1309.8 1239.5L1274.2 1239.5zM1335.0 1207.5L1352.8 1238.5L1317.2 1238.5zM1376.9 1207.5L1394.7 1238.5L1359.2 1238.5zM1419.8 1206.5L1437.5 1237.5L1402.0 1237.5zM1462.1 1206.0L1479.8 1237.0L1444.3 1237.0zM1501.9 1205.5L1519.7 1236.5L1484.2 1236.5zM1544.2 1205.0L1562.0 1236.0L1526.5 1236.0zM1584.0 1204.5L1601.8 1235.5L1566.2 1235.5zM1606.4 1204.5L1624.2 1235.5L1588.7 1235.5zM1648.7 1204.2L1666.5 1235.2L1631.0 1235.2zM1691.0 1203.7L1708.8 1234.7L1673.2 1234.7zM1710.8 1203.5L1728.5 1234.5L1693.0 1234.5zM1753.1 1203.0L1770.8 1234.0L1735.3 1234.0zM1795.4 1202.5L1813.2 1233.5L1777.7 1233.5zM1838.4 1202.0L1856.2 1233.0L1820.7 1233.0zM1880.6 1201.5L1898.3 1232.5L1862.8 1232.5zM1922.7 1201.2L1940.5 1232.2L1905.0 1232.2zM1942.9 1200.9L1960.7 1231.9L1925.2 1231.9zM1975.4 1200.2L1993.2 1231.2L1957.7 1231.2zM2009.6 1199.5L2027.3 1230.5L1991.8 1230.5zM2030.0 1198.5L2047.8 1229.5L2012.2 1229.5zM2045.0 1197.5L2062.8 1228.5L2027.2 1228.5z" fill="#0000FF"/>
<path d="M893.5 1238.2L897.2 1237.7 M936.1 1234.2L939.1 1234.0 M978.1 1231.6L980.0 1231.5 M1019.0 1229.2L1021.5 1229.1 M1228.7 1221.5L1231.3 1221.5 M1270.3 1221.0L1272.5 1221.0 M1311.5 1220.5L1315.5 1220.5 M1354.5 1220.0L1357.4 1220.0 M1521.4 1217.8L1524.7 1217.7 M1563.7 1217.3L1564.5 1217.2 M1603.5 1217.0L1606.8 1217.0 M1645.8 1216.8L1649.0 1216.7 M1688.0 1216.3L1691.3 1216.2 M1730.3 1215.8L1733.6 1215.7 M1772.6 1215.3L1775.9 1215.2 M1814.9 1214.8L1818.9 1214.7" stroke="#0000FF" stroke-width="2.5" fill="none"/>
<path d="M2045.0 1196.4L2060.5 1223.6L2029.5 1223.6z" fill="#fff" stroke="#0000FF" stroke-width="3"/>
<path d="M2030.0 1197.4L2045.5 1224.6L2014.5 1224.6z" fill="#fff" stroke="#0000FF" stroke-width="3"/>
<path d="M2010.0 1198.4L2025.5 1225.6L1994.5 1225.6z" fill="#fff" stroke="#0000FF" stroke-width="3"/>
<path d="M1985.9 1198.9L2001.4 1226.1L1970.4 1226.1z" fill="#fff" stroke="#0000FF" stroke-width="3"/>
<path d="M1964.8 1199.4L1980.3 1226.6L1949.3 1226.6z" fill="#fff" stroke="#0000FF" stroke-width="3"/>
<path d="M1934.1 1199.9L1949.6 1227.1L1918.6 1227.1z" fill="#fff" stroke="#0000FF" stroke-width="3"/>
<path d="M1902.5 1200.4L1918.0 1227.6L1887.0 1227.6z" fill="#fff" stroke="#0000FF" stroke-width="3"/>
<path d="M1870.9 1200.4L1886.4 1227.6L1855.4 1227.6z" fill="#fff" stroke="#0000FF" stroke-width="3"/>
<path d="M1838.4 1200.9L1853.9 1228.1L1822.9 1228.1z" fill="#fff" stroke="#0000FF" stroke-width="3"/>
<path d="M1795.4 1201.4L1810.9 1228.6L1779.9 1228.6z" fill="#fff" stroke="#0000FF" stroke-width="3"/>
<path d="M1753.1 1201.9L1768.6 1229.1L1737.6 1229.1z" fill="#fff" stroke="#0000FF" stroke-width="3"/>
<path d="M1710.8 1202.4L1726.3 1229.6L1695.3 1229.6z" fill="#fff" stroke="#0000FF" stroke-width="3"/>
<path d="M1668.5 1202.9L1684.0 1230.1L1653.0 1230.1z" fill="#fff" stroke="#0000FF" stroke-width="3"/>
<path d="M1626.3 1203.4L1641.8 1230.6L1610.8 1230.6z" fill="#fff" stroke="#0000FF" stroke-width="3"/>
<path d="M1584.0 1203.4L1599.5 1230.6L1568.5 1230.6z" fill="#fff" stroke="#0000FF" stroke-width="3"/>
<path d="M1544.2 1203.9L1559.7 1231.1L1528.7 1231.1z" fill="#fff" stroke="#0000FF" stroke-width="3"/>
<path d="M1501.9 1204.4L1517.4 1231.6L1486.4 1231.6z" fill="#fff" stroke="#0000FF" stroke-width="3"/>
<path d="M1482.0 1204.4L1497.5 1231.6L1466.5 1231.6z" fill="#fff" stroke="#0000FF" stroke-width="3"/>
<path d="M1462.1 1204.9L1477.6 1232.1L1446.6 1232.1z" fill="#fff" stroke="#0000FF" stroke-width="3"/>
<path d="M1439.7 1205.4L1455.2 1232.6L1424.2 1232.6z" fill="#fff" stroke="#0000FF" stroke-width="3"/>
<path d="M1419.8 1205.4L1435.3 1232.6L1404.3 1232.6z" fill="#fff" stroke="#0000FF" stroke-width="3"/>
<path d="M1397.4 1205.9L1412.9 1233.1L1381.9 1233.1z" fill="#fff" stroke="#0000FF" stroke-width="3"/>
<path d="M1376.9 1206.4L1392.4 1233.6L1361.4 1233.6z" fill="#fff" stroke="#0000FF" stroke-width="3"/>
<path d="M1335.0 1206.4L1350.5 1233.6L1319.5 1233.6z" fill="#fff" stroke="#0000FF" stroke-width="3"/>
<path d="M1292.0 1207.4L1307.5 1234.6L1276.5 1234.6z" fill="#fff" stroke="#0000FF" stroke-width="3"/>
<path d="M1250.8 1207.4L1266.3 1234.6L1235.3 1234.6z" fill="#fff" stroke="#0000FF" stroke-width="3"/>
<path d="M1209.2 1208.4L1224.7 1235.6L1193.7 1235.6z" fill="#fff" stroke="#0000FF" stroke-width="3"/>
<path d="M1187.9 1208.9L1203.4 1236.1L1172.4 1236.1z" fill="#fff" stroke="#0000FF" stroke-width="3"/>
<path d="M1166.2 1209.4L1181.7 1236.6L1150.7 1236.6z" fill="#fff" stroke="#0000FF" stroke-width="3"/>
<path d="M1145.4 1209.9L1160.9 1237.1L1129.9 1237.1z" fill="#fff" stroke="#0000FF" stroke-width="3"/>
<path d="M1125.2 1210.4L1140.7 1237.6L1109.7 1237.6z" fill="#fff" stroke="#0000FF" stroke-width="3"/>
<path d="M1114.1 1210.9L1129.6 1238.1L1098.6 1238.1z" fill="#fff" stroke="#0000FF" stroke-width="3"/>
<path d="M1103.9 1211.4L1119.4 1238.6L1088.4 1238.6z" fill="#fff" stroke="#0000FF" stroke-width="3"/>
<path d="M1083.4 1212.4L1098.9 1239.6L1067.9 1239.6z" fill="#fff" stroke="#0000FF" stroke-width="3"/>
<path d="M1063.0 1213.4L1078.5 1240.6L1047.5 1240.6z" fill="#fff" stroke="#0000FF" stroke-width="3"/>
<path d="M1041.0 1214.4L1056.5 1241.6L1025.5 1241.6z" fill="#fff" stroke="#0000FF" stroke-width="3"/>
<path d="M999.5 1216.7L1015.0 1243.9L984.0 1243.9z" fill="#fff" stroke="#0000FF" stroke-width="3"/>
<path d="M958.6 1219.2L974.1 1246.4L943.1 1246.4z" fill="#fff" stroke="#0000FF" stroke-width="3"/>
<path d="M916.6 1221.8L932.1 1249.0L901.1 1249.0z" fill="#fff" stroke="#0000FF" stroke-width="3"/>
<path d="M874.1 1226.9L889.6 1254.1L858.6 1254.1z" fill="#fff" stroke="#0000FF" stroke-width="3"/>
<path d="M717.1 1316.2L720.9 1315.3 M759.1 1307.5L767.9 1305.7 M806.3 1299.3L812.7 1298.5 M851.3 1292.8L856.3 1292.1 M895.0 1286.8L899.7 1286.3 M938.5 1281.6L940.6 1281.4 M979.3 1276.6L980.7 1276.4 M1097.0 1268.1L1100.5 1267.9 M1139.4 1265.0L1143.0 1264.7 M1181.9 1261.4L1186.8 1261.0 M1225.8 1258.3L1227.8 1258.2 M1266.8 1255.5L1271.6 1255.2 M1310.6 1253.2L1314.1 1253.1 M1353.1 1252.2L1355.0 1252.2 M1394.0 1251.5L1396.5 1251.5 M1435.5 1250.8L1438.5 1250.7 M1477.5 1250.3L1480.5 1250.2 M1519.5 1249.8L1522.5 1249.7 M1561.5 1249.3L1564.5 1249.2 M1603.5 1248.8L1606.5 1248.7 M1645.5 1248.3L1648.5 1248.2 M1687.5 1247.8L1690.5 1247.7 M1729.5 1247.3L1732.5 1247.2 M1771.5 1246.8L1774.5 1246.7 M1813.4 1244.9L1817.3 1244.6" stroke="#A000C8" stroke-width="2.5" fill="none"/>
<path d="M366.3 1601.7L371.0 1612.9L383.0 1613.9L373.8 1621.7L376.6 1633.5L366.3 1627.2L356.0 1633.5L358.8 1621.7L349.6 1613.9L361.6 1612.9zM366.3 1597.7L371.0 1608.9L383.0 1609.9L373.8 1617.7L376.6 1629.5L366.3 1623.2L356.0 1629.5L358.8 1617.7L349.6 1609.9L361.6 1608.9zM366.3 1593.7L371.0 1604.9L383.0 1605.9L373.8 1613.7L376.6 1625.5L366.3 1619.2L356.0 1625.5L358.8 1613.7L349.6 1605.9L361.6 1604.9zM366.3 1589.7L371.0 1600.9L383.0 1601.9L373.8 1609.7L376.6 1621.5L366.3 1615.2L356.0 1621.5L358.8 1609.7L349.6 1601.9L361.6 1600.9zM366.3 1585.7L371.0 1596.9L383.0 1597.9L373.8 1605.7L376.6 1617.5L366.3 1611.2L356.0 1617.5L358.8 1605.7L349.6 1597.9L361.6 1596.9zM366.3 1581.7L371.0 1592.9L383.0 1593.9L373.8 1601.7L376.6 1613.5L366.3 1607.2L356.0 1613.5L358.8 1601.7L349.6 1593.9L361.6 1592.9zM366.3 1577.7L371.0 1588.9L383.0 1589.9L373.8 1597.7L376.6 1609.5L366.3 1603.2L356.0 1609.5L358.8 1597.7L349.6 1589.9L361.6 1588.9zM366.3 1573.7L371.0 1584.9L383.0 1585.9L373.8 1593.7L376.6 1605.5L366.3 1599.2L356.0 1605.5L358.8 1593.7L349.6 1585.9L361.6 1584.9zM366.3 1569.7L371.0 1580.9L383.0 1581.9L373.8 1589.7L376.6 1601.5L366.3 1595.2L356.0 1601.5L358.8 1589.7L349.6 1581.9L361.6 1580.9zM366.3 1565.7L371.0 1576.9L383.0 1577.9L373.8 1585.7L376.6 1597.5L366.3 1591.2L356.0 1597.5L358.8 1585.7L349.6 1577.9L361.6 1576.9zM366.3 1561.7L371.0 1572.9L383.0 1573.9L373.8 1581.7L376.6 1593.5L366.3 1587.2L356.0 1593.5L358.8 1581.7L349.6 1573.9L361.6 1572.9zM366.3 1557.7L371.0 1568.9L383.0 1569.9L373.8 1577.7L376.6 1589.5L366.3 1583.2L356.0 1589.5L358.8 1577.7L349.6 1569.9L361.6 1568.9zM366.3 1553.7L371.0 1564.9L383.0 1565.9L373.8 1573.7L376.6 1585.5L366.3 1579.2L356.0 1585.5L358.8 1573.7L349.6 1565.9L361.6 1564.9zM366.3 1549.7L371.0 1560.9L383.0 1561.9L373.8 1569.7L376.6 1581.5L366.3 1575.2L356.0 1581.5L358.8 1569.7L349.6 1561.9L361.6 1560.9zM366.3 1545.7L371.0 1556.9L383.0 1557.9L373.8 1565.7L376.6 1577.5L366.3 1571.2L356.0 1577.5L358.8 1565.7L349.6 1557.9L361.6 1556.9zM366.3 1541.7L371.0 1552.9L383.0 1553.9L373.8 1561.7L376.6 1573.5L366.3 1567.2L356.0 1573.5L358.8 1561.7L349.6 1553.9L361.6 1552.9zM366.3 1537.7L371.0 1548.9L383.0 1549.9L373.8 1557.7L376.6 1569.5L366.3 1563.2L356.0 1569.5L358.8 1557.7L349.6 1549.9L361.6 1548.9zM366.3 1533.7L371.0 1544.9L383.0 1545.9L373.8 1553.7L376.6 1565.5L366.3 1559.2L356.0 1565.5L358.8 1553.7L349.6 1545.9L361.6 1544.9zM366.3 1529.7L371.0 1540.9L383.0 1541.9L373.8 1549.7L376.6 1561.5L366.3 1555.2L356.0 1561.5L358.8 1549.7L349.6 1541.9L361.6 1540.9zM366.3 1525.7L371.0 1536.9L383.0 1537.9L373.8 1545.7L376.6 1557.5L366.3 1551.2L356.0 1557.5L358.8 1545.7L349.6 1537.9L361.6 1536.9zM366.3 1521.7L371.0 1532.9L383.0 1533.9L373.8 1541.7L376.6 1553.5L366.3 1547.2L356.0 1553.5L358.8 1541.7L349.6 1533.9L361.6 1532.9zM366.3 1517.7L371.0 1528.9L383.0 1529.9L373.8 1537.7L376.6 1549.5L366.3 1543.2L356.0 1549.5L358.8 1537.7L349.6 1529.9L361.6 1528.9zM366.3 1513.7L371.0 1524.9L383.0 1525.9L373.8 1533.7L376.6 1545.5L366.3 1539.2L356.0 1545.5L358.8 1533.7L349.6 1525.9L361.6 1524.9zM366.3 1509.7L371.0 1520.9L383.0 1521.9L373.8 1529.7L376.6 1541.5L366.3 1535.2L356.0 1541.5L358.8 1529.7L349.6 1521.9L361.6 1520.9zM366.3 1505.7L371.0 1516.9L383.0 1517.9L373.8 1525.7L376.6 1537.5L366.3 1531.2L356.0 1537.5L358.8 1525.7L349.6 1517.9L361.6 1516.9zM366.3 1501.7L371.0 1512.9L383.0 1513.9L373.8 1521.7L376.6 1533.5L366.3 1527.2L356.0 1533.5L358.8 1521.7L349.6 1513.9L361.6 1512.9zM366.3 1497.7L371.0 1508.9L383.0 1509.9L373.8 1517.7L376.6 1529.5L366.3 1523.2L356.0 1529.5L358.8 1517.7L349.6 1509.9L361.6 1508.9zM366.3 1493.7L371.0 1504.9L383.0 1505.9L373.8 1513.7L376.6 1525.5L366.3 1519.2L356.0 1525.5L358.8 1513.7L349.6 1505.9L361.6 1504.9zM366.3 1489.7L371.0 1500.9L383.0 1501.9L373.8 1509.7L376.6 1521.5L366.3 1515.2L356.0 1521.5L358.8 1509.7L349.6 1501.9L361.6 1500.9zM366.3 1485.7L371.0 1496.9L383.0 1497.9L373.8 1505.7L376.6 1517.5L366.3 1511.2L356.0 1517.5L358.8 1505.7L349.6 1497.9L361.6 1496.9zM366.3 1481.7L371.0 1492.9L383.0 1493.9L373.8 1501.7L376.6 1513.5L366.3 1507.2L356.0 1513.5L358.8 1501.7L349.6 1493.9L361.6 1492.9zM366.3 1477.7L371.0 1488.9L383.0 1489.9L373.8 1497.7L376.6 1509.5L366.3 1503.2L356.0 1509.5L358.8 1497.7L349.6 1489.9L361.6 1488.9zM366.3 1473.7L371.0 1484.9L383.0 1485.9L373.8 1493.7L376.6 1505.5L366.3 1499.2L356.0 1505.5L358.8 1493.7L349.6 1485.9L361.6 1484.9zM366.3 1469.7L371.0 1480.9L383.0 1481.9L373.8 1489.7L376.6 1501.5L366.3 1495.2L356.0 1501.5L358.8 1489.7L349.6 1481.9L361.6 1480.9zM366.3 1465.7L371.0 1476.9L383.0 1477.9L373.8 1485.7L376.6 1497.5L366.3 1491.2L356.0 1497.5L358.8 1485.7L349.6 1477.9L361.6 1476.9zM366.3 1461.7L371.0 1472.9L383.0 1473.9L373.8 1481.7L376.6 1493.5L366.3 1487.2L356.0 1493.5L358.8 1481.7L349.6 1473.9L361.6 1472.9zM366.3 1457.7L371.0 1468.9L383.0 1469.9L373.8 1477.7L376.6 1489.5L366.3 1483.2L356.0 1489.5L358.8 1477.7L349.6 1469.9L361.6 1468.9zM366.3 1453.7L371.0 1464.9L383.0 1465.9L373.8 1473.7L376.6 1485.5L366.3 1479.2L356.0 1485.5L358.8 1473.7L349.6 1465.9L361.6 1464.9zM366.3 1449.7L371.0 1460.9L383.0 1461.9L373.8 1469.7L376.6 1481.5L366.3 1475.2L356.0 1481.5L358.8 1469.7L349.6 1461.9L361.6 1460.9zM366.3 1445.7L371.0 1456.9L383.0 1457.9L373.8 1465.7L376.6 1477.5L366.3 1471.2L356.0 1477.5L358.8 1465.7L349.6 1457.9L361.6 1456.9zM366.3 1441.7L371.0 1452.9L383.0 1453.9L373.8 1461.7L376.6 1473.5L366.3 1467.2L356.0 1473.5L358.8 1461.7L349.6 1453.9L361.6 1452.9zM367.0 1439.7L371.7 1450.9L383.7 1451.9L374.5 1459.7L377.3 1471.5L367.0 1465.2L356.7 1471.5L359.5 1459.7L350.3 1451.9L362.3 1450.9zM373.0 1436.7L377.7 1447.9L389.7 1448.9L380.5 1456.7L383.3 1468.5L373.0 1462.2L362.7 1468.5L365.5 1456.7L356.3 1448.9L368.3 1447.9zM379.0 1432.5L383.7 1443.7L395.7 1444.7L386.5 1452.5L389.3 1464.3L379.0 1458.0L368.7 1464.3L371.5 1452.5L362.3 1444.7L374.3 1443.7zM385.0 1427.7L389.7 1438.9L401.7 1439.9L392.5 1447.7L395.3 1459.5L385.0 1453.2L374.7 1459.5L377.5 1447.7L368.3 1439.9L380.3 1438.9zM391.0 1419.9L395.7 1431.1L407.7 1432.1L398.5 1439.9L401.3 1451.7L391.0 1445.4L380.7 1451.7L383.5 1439.9L374.3 1432.1L386.3 1431.1zM397.0 1412.5L401.7 1423.7L413.7 1424.7L404.5 1432.5L407.3 1444.3L397.0 1438.0L386.7 1444.3L389.5 1432.5L380.3 1424.7L392.3 1423.7zM403.0 1405.9L407.7 1417.1L419.7 1418.1L410.5 1425.9L413.3 1437.7L403.0 1431.4L392.7 1437.7L395.5 1425.9L386.3 1418.1L398.3 1417.1zM409.0 1400.8L413.7 1412.0L425.7 1413.0L416.5 1420.8L419.3 1432.6L409.0 1426.3L398.7 1432.6L401.5 1420.8L392.3 1413.0L404.3 1412.0zM415.0 1396.4L419.7 1407.6L431.7 1408.6L422.5 1416.5L425.3 1428.3L415.0 1421.9L404.7 1428.3L407.5 1416.5L398.3 1408.6L410.3 1407.6zM421.0 1392.8L425.7 1404.0L437.7 1404.9L428.5 1412.8L431.3 1424.6L421.0 1418.3L410.7 1424.6L413.5 1412.8L404.3 1404.9L416.3 1404.0zM427.0 1389.3L431.7 1400.5L443.7 1401.4L434.5 1409.3L437.3 1421.1L427.0 1414.8L416.7 1421.1L419.5 1409.3L410.3 1401.4L422.3 1400.5zM433.0 1386.3L437.7 1397.5L449.7 1398.5L440.5 1406.4L443.3 1418.2L433.0 1411.9L422.7 1418.2L425.5 1406.4L416.3 1398.5L428.3 1397.5zM439.0 1383.5L443.7 1394.7L455.7 1395.7L446.5 1403.5L449.3 1415.3L439.0 1409.0L428.7 1415.3L431.5 1403.5L422.3 1395.7L434.3 1394.7zM445.0 1380.6L449.7 1391.8L461.7 1392.8L452.5 1400.7L455.3 1412.5L445.0 1406.2L434.7 1412.5L437.5 1400.7L428.3 1392.8L440.3 1391.8zM451.0 1377.8L455.7 1389.0L467.7 1390.0L458.5 1397.9L461.3 1409.7L451.0 1403.4L440.7 1409.7L443.5 1397.9L434.3 1390.0L446.3 1389.0zM457.0 1375.1L461.7 1386.2L473.7 1387.2L464.5 1395.1L467.3 1406.9L457.0 1400.6L446.7 1406.9L449.5 1395.1L440.3 1387.2L452.3 1386.2zM463.0 1372.3L467.7 1383.5L479.7 1384.4L470.5 1392.3L473.3 1404.1L463.0 1397.8L452.7 1404.1L455.5 1392.3L446.3 1384.4L458.3 1383.5zM469.0 1369.5L473.7 1380.7L485.7 1381.6L476.5 1389.5L479.3 1401.3L469.0 1395.0L458.7 1401.3L461.5 1389.5L452.3 1381.6L464.3 1380.7zM475.0 1366.7L479.7 1377.9L491.7 1378.9L482.5 1386.7L485.3 1398.5L475.0 1392.2L464.7 1398.5L467.5 1386.7L458.3 1378.9L470.3 1377.9zM481.0 1364.3L485.7 1375.5L497.7 1376.5L488.5 1384.3L491.3 1396.1L481.0 1389.8L470.7 1396.1L473.5 1384.3L464.3 1376.5L476.3 1375.5zM487.0 1361.9L491.7 1373.1L503.7 1374.1L494.5 1381.9L497.3 1393.7L487.0 1387.4L476.7 1393.7L479.5 1381.9L470.3 1374.1L482.3 1373.1zM493.0 1359.5L497.7 1370.7L509.7 1371.7L500.5 1379.5L503.3 1391.3L493.0 1385.0L482.7 1391.3L485.5 1379.5L476.3 1371.7L488.3 1370.7zM499.0 1357.1L503.7 1368.3L515.7 1369.3L506.5 1377.1L509.3 1388.9L499.0 1382.6L488.7 1388.9L491.5 1377.1L482.3 1369.3L494.3 1368.3zM505.0 1354.7L509.7 1365.9L521.7 1366.9L512.5 1374.7L515.3 1386.5L505.0 1380.2L494.7 1386.5L497.5 1374.7L488.3 1366.9L500.3 1365.9zM511.0 1352.7L515.7 1363.9L527.7 1364.9L518.5 1372.8L521.3 1384.6L511.0 1378.3L500.7 1384.6L503.5 1372.8L494.3 1364.9L506.3 1363.9zM517.0 1350.8L521.7 1362.0L533.7 1362.9L524.5 1370.8L527.3 1382.6L517.0 1376.3L506.7 1382.6L509.5 1370.8L500.3 1362.9L512.3 1362.0zM523.0 1348.8L527.7 1360.0L539.7 1361.0L530.5 1368.9L533.3 1380.7L523.0 1374.3L512.7 1380.7L515.5 1368.9L506.3 1361.0L518.3 1360.0zM529.0 1346.9L533.7 1358.0L545.7 1359.0L536.5 1366.9L539.3 1378.7L529.0 1372.4L518.7 1378.7L521.5 1366.9L512.3 1359.0L524.3 1358.0zM535.6 1344.7L540.3 1355.9L552.3 1356.9L543.1 1364.7L545.9 1376.5L535.6 1370.2L525.3 1376.5L528.1 1364.7L518.9 1356.9L530.9 1355.9zM550.2 1340.2L554.9 1351.4L566.9 1352.4L557.7 1360.3L560.5 1372.1L550.2 1365.8L539.9 1372.1L542.7 1360.3L533.5 1352.4L545.5 1351.4zM564.8 1335.8L569.5 1347.0L581.5 1347.9L572.3 1355.8L575.1 1367.6L564.8 1361.3L554.5 1367.6L557.3 1355.8L548.1 1347.9L560.1 1347.0zM582.4 1330.9L587.1 1342.1L599.1 1343.1L589.9 1350.9L592.7 1362.7L582.4 1356.4L572.1 1362.7L574.9 1350.9L565.7 1343.1L577.7 1342.1zM599.9 1326.2L604.6 1337.4L616.6 1338.4L607.4 1346.3L610.2 1358.1L599.9 1351.7L589.6 1358.1L592.4 1346.3L583.2 1338.4L595.2 1337.4zM617.5 1321.8L622.2 1333.0L634.2 1334.0L625.0 1341.9L627.8 1353.7L617.5 1347.3L607.2 1353.7L610.0 1341.9L600.8 1334.0L612.8 1333.0zM633.6 1319.0L638.3 1330.2L650.3 1331.2L641.1 1339.1L643.9 1350.9L633.6 1344.6L623.3 1350.9L626.1 1339.1L616.9 1331.2L628.9 1330.2zM649.7 1316.7L654.4 1327.9L666.4 1328.9L657.2 1336.8L660.0 1348.6L649.7 1342.3L639.4 1348.6L642.2 1336.8L633.0 1328.9L645.0 1327.9zM667.2 1311.2L671.9 1322.4L683.9 1323.4L674.7 1331.2L677.5 1343.0L667.2 1336.7L656.9 1343.0L659.7 1331.2L650.5 1323.4L662.5 1322.4zM698.0 1304.0L702.7 1315.2L714.7 1316.2L705.5 1324.1L708.3 1335.8L698.0 1329.5L687.7 1335.8L690.5 1324.1L681.3 1316.2L693.3 1315.2zM740.0 1294.9L744.7 1306.1L756.7 1307.1L747.5 1314.9L750.3 1326.7L740.0 1320.4L729.7 1326.7L732.5 1314.9L723.3 1307.1L735.3 1306.1zM787.0 1285.7L791.7 1296.9L803.7 1297.9L794.5 1305.7L797.3 1317.5L787.0 1311.2L776.7 1317.5L779.5 1305.7L770.3 1297.9L782.3 1296.9zM832.0 1279.5L836.7 1290.7L848.7 1291.7L839.5 1299.5L842.3 1311.3L832.0 1305.0L821.7 1311.3L824.5 1299.5L815.3 1291.7L827.3 1290.7zM875.6 1272.8L880.3 1284.0L892.3 1285.0L883.1 1292.8L885.9 1304.6L875.6 1298.3L865.3 1304.6L868.1 1292.8L858.9 1285.0L870.9 1284.0zM919.1 1267.7L923.8 1278.9L935.8 1279.9L926.6 1287.7L929.4 1299.5L919.1 1293.2L908.8 1299.5L911.6 1287.7L902.4 1279.9L914.4 1278.9zM960.0 1262.7L964.7 1273.9L976.7 1274.9L967.5 1282.7L970.3 1294.5L960.0 1288.2L949.7 1294.5L952.5 1282.7L943.3 1274.9L955.3 1273.9zM1000.0 1257.7L1004.7 1268.9L1016.7 1269.9L1007.5 1277.7L1010.3 1289.5L1000.0 1283.2L989.7 1289.5L992.5 1277.7L983.3 1269.9L995.3 1268.9zM1038.0 1255.1L1042.7 1266.3L1054.7 1267.3L1045.5 1275.1L1048.3 1286.9L1038.0 1280.6L1027.7 1286.9L1030.5 1275.1L1021.3 1267.3L1033.3 1266.3zM1077.5 1252.7L1082.2 1263.9L1094.2 1264.9L1085.0 1272.7L1087.8 1284.5L1077.5 1278.2L1067.2 1284.5L1070.0 1272.7L1060.8 1264.9L1072.8 1263.9zM1120.0 1250.7L1124.7 1261.9L1136.7 1262.9L1127.5 1270.7L1130.3 1282.5L1120.0 1276.2L1109.7 1282.5L1112.5 1270.7L1103.3 1262.9L1115.3 1261.9zM1162.4 1246.4L1167.1 1257.6L1179.1 1258.6L1169.9 1266.4L1172.7 1278.2L1162.4 1271.9L1152.1 1278.2L1154.9 1266.4L1145.7 1258.6L1157.7 1257.6zM1206.3 1243.4L1211.0 1254.6L1223.0 1255.6L1213.8 1263.4L1216.6 1275.2L1206.3 1268.9L1196.0 1275.2L1198.8 1263.4L1189.6 1255.6L1201.6 1254.6zM1247.3 1240.5L1252.0 1251.7L1264.0 1252.7L1254.8 1260.5L1257.6 1272.3L1247.3 1266.0L1237.0 1272.3L1239.8 1260.5L1230.6 1252.7L1242.6 1251.7zM1291.1 1237.6L1295.8 1248.8L1307.8 1249.8L1298.6 1257.6L1301.4 1269.4L1291.1 1263.1L1280.8 1269.4L1283.6 1257.6L1274.4 1249.8L1286.4 1248.8zM1333.6 1236.1L1338.3 1247.3L1350.3 1248.3L1341.1 1256.1L1343.9 1267.9L1333.6 1261.6L1323.3 1267.9L1326.1 1256.1L1316.9 1248.3L1328.9 1247.3zM1374.5 1235.7L1379.2 1246.9L1391.2 1247.9L1382.0 1255.7L1384.8 1267.5L1374.5 1261.2L1364.2 1267.5L1367.0 1255.7L1357.8 1247.9L1369.8 1246.9zM1416.0 1234.7L1420.7 1245.9L1432.7 1246.9L1423.5 1254.7L1426.3 1266.5L1416.0 1260.2L1405.7 1266.5L1408.5 1254.7L1399.3 1246.9L1411.3 1245.9zM1458.0 1234.2L1462.7 1245.4L1474.7 1246.4L1465.5 1254.2L1468.3 1266.0L1458.0 1259.7L1447.7 1266.0L1450.5 1254.2L1441.3 1246.4L1453.3 1245.4zM1500.0 1233.7L1504.7 1244.9L1516.7 1245.9L1507.5 1253.7L1510.3 1265.5L1500.0 1259.2L1489.7 1265.5L1492.5 1253.7L1483.3 1245.9L1495.3 1244.9zM1542.0 1233.2L1546.7 1244.4L1558.7 1245.4L1549.5 1253.2L1552.3 1265.0L1542.0 1258.7L1531.7 1265.0L1534.5 1253.2L1525.3 1245.4L1537.3 1244.4zM1584.0 1232.7L1588.7 1243.9L1600.7 1244.9L1591.5 1252.7L1594.3 1264.5L1584.0 1258.2L1573.7 1264.5L1576.5 1252.7L1567.3 1244.9L1579.3 1243.9zM1626.0 1232.2L1630.7 1243.4L1642.7 1244.4L1633.5 1252.2L1636.3 1264.0L1626.0 1257.7L1615.7 1264.0L1618.5 1252.2L1609.3 1244.4L1621.3 1243.4zM1668.0 1231.7L1672.7 1242.9L1684.7 1243.9L1675.5 1251.7L1678.3 1263.5L1668.0 1257.2L1657.7 1263.5L1660.5 1251.7L1651.3 1243.9L1663.3 1242.9zM1710.0 1231.2L1714.7 1242.4L1726.7 1243.4L1717.5 1251.2L1720.3 1263.0L1710.0 1256.7L1699.7 1263.0L1702.5 1251.2L1693.3 1243.4L1705.3 1242.4zM1752.0 1230.7L1756.7 1241.9L1768.7 1242.9L1759.5 1250.7L1762.3 1262.5L1752.0 1256.2L1741.7 1262.5L1744.5 1250.7L1735.3 1242.9L1747.3 1241.9zM1794.0 1230.2L1798.7 1241.4L1810.7 1242.4L1801.5 1250.2L1804.3 1262.0L1794.0 1255.7L1783.7 1262.0L1786.5 1250.2L1777.3 1242.4L1789.3 1241.4zM1836.7 1226.7L1841.4 1237.9L1853.4 1238.9L1844.2 1246.7L1847.0 1258.5L1836.7 1252.2L1826.4 1258.5L1829.2 1246.7L1820.0 1238.9L1832.0 1237.9zM1874.4 1225.0L1879.1 1236.2L1891.1 1237.2L1881.9 1245.0L1884.7 1256.8L1874.4 1250.5L1864.1 1256.8L1866.9 1245.0L1857.7 1237.2L1869.7 1236.2zM1900.0 1223.7L1904.7 1234.9L1916.7 1235.9L1907.5 1243.7L1910.3 1255.5L1900.0 1249.2L1889.7 1255.5L1892.5 1243.7L1883.3 1235.9L1895.3 1234.9zM1920.0 1221.7L1924.7 1232.9L1936.7 1233.9L1927.5 1241.7L1930.3 1253.5L1920.0 1247.2L1909.7 1253.5L1912.5 1241.7L1903.3 1233.9L1915.3 1232.9zM1940.0 1219.7L1944.7 1230.9L1956.7 1231.9L1947.5 1239.7L1950.3 1251.5L1940.0 1245.2L1929.7 1251.5L1932.5 1239.7L1923.3 1231.9L1935.3 1230.9zM1960.0 1217.7L1964.7 1228.9L1976.7 1229.9L1967.5 1237.7L1970.3 1249.5L1960.0 1243.2L1949.7 1249.5L1952.5 1237.7L1943.3 1229.9L1955.3 1228.9zM1980.0 1214.7L1984.7 1225.9L1996.7 1226.9L1987.5 1234.7L1990.3 1246.5L1980.0 1240.2L1969.7 1246.5L1972.5 1234.7L1963.3 1226.9L1975.3 1225.9zM2000.0 1211.7L2004.7 1222.9L2016.7 1223.9L2007.5 1231.7L2010.3 1243.5L2000.0 1237.2L1989.7 1243.5L1992.5 1231.7L1983.3 1223.9L1995.3 1222.9zM2020.0 1207.7L2024.7 1218.9L2036.7 1219.9L2027.5 1227.7L2030.3 1239.5L2020.0 1233.2L2009.7 1239.5L2012.5 1227.7L2003.3 1219.9L2015.3 1218.9zM2040.0 1202.7L2044.7 1213.9L2056.7 1214.9L2047.5 1222.7L2050.3 1234.5L2040.0 1228.2L2029.7 1234.5L2032.5 1222.7L2023.3 1214.9L2035.3 1213.9z" fill="#A000C8"/>
<path d="M1016.4 1271.6L1024.5 1270.7 M1063.2 1265.5L1071.4 1264.2 M1227.3 1247.3L1229.2 1247.3 M1268.2 1246.6L1271.6 1246.6 M1310.6 1246.6L1314.1 1246.6 M1353.1 1246.6L1356.5 1246.6 M1434.3 1245.3L1437.6 1245.2 M1476.6 1245.0L1479.9 1245.0 M1518.9 1244.8L1522.2 1244.7 M1561.2 1244.5L1564.5 1244.5 M1603.5 1244.3L1606.8 1244.2 M1645.8 1244.0L1649.0 1244.0 M1688.0 1243.8L1691.3 1243.7 M1730.3 1243.3L1733.6 1243.2 M1772.6 1242.8L1775.9 1242.7 M1814.7 1239.9L1823.5 1238.6" stroke="#A000C8" stroke-width="2.5" fill="none"/>
<path d="M2038.6 1189.7L2042.8 1199.9L2053.8 1200.8L2045.4 1207.9L2048.0 1218.6L2038.6 1212.9L2029.2 1218.6L2031.8 1207.9L2023.4 1200.8L2034.4 1199.9z" fill="#fff" stroke="#A000C8" stroke-width="3"/>
<path d="M2019.3 1196.7L2023.5 1206.9L2034.5 1207.8L2026.1 1214.9L2028.7 1225.6L2019.3 1219.9L2009.9 1225.6L2012.5 1214.9L2004.1 1207.8L2015.1 1206.9z" fill="#fff" stroke="#A000C8" stroke-width="3"/>
<path d="M1999.0 1202.0L2003.2 1212.2L2014.2 1213.1L2005.8 1220.2L2008.4 1230.9L1999.0 1225.2L1989.6 1230.9L1992.2 1220.2L1983.8 1213.1L1994.8 1212.2z" fill="#fff" stroke="#A000C8" stroke-width="3"/>
<path d="M1980.0 1208.3L1984.2 1218.5L1995.2 1219.4L1986.8 1226.5L1989.4 1237.2L1980.0 1231.5L1970.6 1237.2L1973.2 1226.5L1964.8 1219.4L1975.8 1218.5z" fill="#fff" stroke="#A000C8" stroke-width="3"/>
<path d="M1970.0 1210.3L1974.2 1220.5L1985.2 1221.4L1976.8 1228.5L1979.4 1239.2L1970.0 1233.5L1960.6 1239.2L1963.2 1228.5L1954.8 1221.4L1965.8 1220.5z" fill="#fff" stroke="#A000C8" stroke-width="3"/>
<path d="M1960.0 1212.3L1964.2 1222.5L1975.2 1223.4L1966.8 1230.5L1969.4 1241.2L1960.0 1235.5L1950.6 1241.2L1953.2 1230.5L1944.8 1223.4L1955.8 1222.5z" fill="#fff" stroke="#A000C8" stroke-width="3"/>
<path d="M1950.0 1213.3L1954.2 1223.5L1965.2 1224.4L1956.8 1231.5L1959.4 1242.2L1950.0 1236.5L1940.6 1242.2L1943.2 1231.5L1934.8 1224.4L1945.8 1223.5z" fill="#fff" stroke="#A000C8" stroke-width="3"/>
<path d="M1940.0 1214.3L1944.2 1224.5L1955.2 1225.4L1946.8 1232.5L1949.4 1243.2L1940.0 1237.5L1930.6 1243.2L1933.2 1232.5L1924.8 1225.4L1935.8 1224.5z" fill="#fff" stroke="#A000C8" stroke-width="3"/>
<path d="M1930.0 1215.3L1934.2 1225.5L1945.2 1226.4L1936.8 1233.5L1939.4 1244.2L1930.0 1238.5L1920.6 1244.2L1923.2 1233.5L1914.8 1226.4L1925.8 1225.5z" fill="#fff" stroke="#A000C8" stroke-width="3"/>
<path d="M1920.0 1216.3L1924.2 1226.5L1935.2 1227.4L1926.8 1234.5L1929.4 1245.2L1920.0 1239.5L1910.6 1245.2L1913.2 1234.5L1904.8 1227.4L1915.8 1226.5z" fill="#fff" stroke="#A000C8" stroke-width="3"/>
<path d="M1910.0 1216.8L1914.2 1227.0L1925.2 1227.9L1916.8 1235.0L1919.4 1245.7L1910.0 1240.0L1900.6 1245.7L1903.2 1235.0L1894.8 1227.9L1905.8 1227.0z" fill="#fff" stroke="#A000C8" stroke-width="3"/>
<path d="M1900.0 1217.3L1904.2 1227.5L1915.2 1228.4L1906.8 1235.5L1909.4 1246.2L1900.0 1240.5L1890.6 1246.2L1893.2 1235.5L1884.8 1228.4L1895.8 1227.5z" fill="#fff" stroke="#A000C8" stroke-width="3"/>
<path d="M1880.6 1217.8L1884.8 1228.0L1895.8 1228.9L1887.4 1236.0L1890.0 1246.7L1880.6 1241.0L1871.2 1246.7L1873.8 1236.0L1865.4 1228.9L1876.4 1228.0z" fill="#fff" stroke="#A000C8" stroke-width="3"/>
<path d="M1842.8 1221.3L1847.0 1231.5L1858.0 1232.4L1849.6 1239.5L1852.2 1250.2L1842.8 1244.5L1833.4 1250.2L1836.0 1239.5L1827.6 1232.4L1838.6 1231.5z" fill="#fff" stroke="#A000C8" stroke-width="3"/>
<path d="M1795.4 1227.8L1799.6 1238.0L1810.6 1238.9L1802.2 1246.0L1804.8 1256.7L1795.4 1251.0L1786.0 1256.7L1788.6 1246.0L1780.2 1238.9L1791.2 1238.0z" fill="#fff" stroke="#A000C8" stroke-width="3"/>
<path d="M1753.1 1228.3L1757.3 1238.5L1768.3 1239.4L1759.9 1246.5L1762.5 1257.2L1753.1 1251.5L1743.7 1257.2L1746.3 1246.5L1737.9 1239.4L1748.9 1238.5z" fill="#fff" stroke="#A000C8" stroke-width="3"/>
<path d="M1710.8 1228.8L1715.0 1239.0L1726.0 1239.9L1717.6 1247.0L1720.2 1257.7L1710.8 1252.0L1701.4 1257.7L1704.0 1247.0L1695.6 1239.9L1706.6 1239.0z" fill="#fff" stroke="#A000C8" stroke-width="3"/>
<path d="M1668.5 1229.3L1672.7 1239.5L1683.7 1240.4L1675.3 1247.5L1677.9 1258.2L1668.5 1252.5L1659.1 1258.2L1661.7 1247.5L1653.3 1240.4L1664.3 1239.5z" fill="#fff" stroke="#A000C8" stroke-width="3"/>
<path d="M1626.3 1229.3L1630.5 1239.5L1641.5 1240.4L1633.1 1247.5L1635.7 1258.2L1626.3 1252.5L1616.9 1258.2L1619.5 1247.5L1611.1 1240.4L1622.1 1239.5z" fill="#fff" stroke="#A000C8" stroke-width="3"/>
<path d="M1584.0 1229.8L1588.2 1240.0L1599.2 1240.9L1590.8 1248.0L1593.4 1258.7L1584.0 1253.0L1574.6 1258.7L1577.2 1248.0L1568.8 1240.9L1579.8 1240.0z" fill="#fff" stroke="#A000C8" stroke-width="3"/>
<path d="M1541.7 1229.8L1545.9 1240.0L1556.9 1240.9L1548.5 1248.0L1551.1 1258.7L1541.7 1253.0L1532.3 1258.7L1534.9 1248.0L1526.5 1240.9L1537.5 1240.0z" fill="#fff" stroke="#A000C8" stroke-width="3"/>
<path d="M1499.4 1230.3L1503.6 1240.5L1514.6 1241.4L1506.2 1248.5L1508.8 1259.2L1499.4 1253.5L1490.0 1259.2L1492.6 1248.5L1484.2 1241.4L1495.2 1240.5z" fill="#fff" stroke="#A000C8" stroke-width="3"/>
<path d="M1457.1 1230.3L1461.3 1240.5L1472.3 1241.4L1463.9 1248.5L1466.5 1259.2L1457.1 1253.5L1447.7 1259.2L1450.3 1248.5L1441.9 1241.4L1452.9 1240.5z" fill="#fff" stroke="#A000C8" stroke-width="3"/>
<path d="M1414.8 1230.8L1419.0 1241.0L1430.0 1241.9L1421.6 1249.0L1424.2 1259.7L1414.8 1254.0L1405.4 1259.7L1408.0 1249.0L1399.6 1241.9L1410.6 1241.0z" fill="#fff" stroke="#A000C8" stroke-width="3"/>
<path d="M1376.0 1231.9L1380.2 1242.1L1391.2 1243.0L1382.8 1250.1L1385.4 1260.8L1376.0 1255.1L1366.6 1260.8L1369.2 1250.1L1360.8 1243.0L1371.8 1242.1z" fill="#fff" stroke="#A000C8" stroke-width="3"/>
<path d="M1333.6 1231.9L1337.8 1242.1L1348.8 1243.0L1340.4 1250.1L1343.0 1260.8L1333.6 1255.1L1324.2 1260.8L1326.8 1250.1L1318.4 1243.0L1329.4 1242.1z" fill="#fff" stroke="#A000C8" stroke-width="3"/>
<path d="M1291.1 1231.9L1295.3 1242.1L1306.3 1243.0L1297.9 1250.1L1300.5 1260.8L1291.1 1255.1L1281.7 1260.8L1284.3 1250.1L1275.9 1243.0L1286.9 1242.1z" fill="#fff" stroke="#A000C8" stroke-width="3"/>
<path d="M1248.7 1231.9L1252.9 1242.1L1263.9 1243.0L1255.5 1250.1L1258.1 1260.8L1248.7 1255.1L1239.3 1260.8L1241.9 1250.1L1233.5 1243.0L1244.5 1242.1z" fill="#fff" stroke="#A000C8" stroke-width="3"/>
<path d="M1207.8 1233.3L1212.0 1243.5L1223.0 1244.4L1214.6 1251.5L1217.2 1262.2L1207.8 1256.5L1198.4 1262.2L1201.0 1251.5L1192.6 1244.4L1203.6 1243.5z" fill="#fff" stroke="#A000C8" stroke-width="3"/>
<path d="M1168.3 1233.3L1172.5 1243.5L1183.5 1244.4L1175.1 1251.5L1177.7 1262.2L1168.3 1256.5L1158.9 1262.2L1161.5 1251.5L1153.1 1244.4L1164.1 1243.5z" fill="#fff" stroke="#A000C8" stroke-width="3"/>
<path d="M1147.8 1236.3L1152.0 1246.5L1163.0 1247.4L1154.6 1254.5L1157.2 1265.2L1147.8 1259.5L1138.4 1265.2L1141.0 1254.5L1132.6 1247.4L1143.6 1246.5z" fill="#fff" stroke="#A000C8" stroke-width="3"/>
<path d="M1125.8 1237.7L1130.0 1247.9L1141.0 1248.8L1132.6 1255.9L1135.2 1266.6L1125.8 1260.9L1116.4 1266.6L1119.0 1255.9L1110.6 1248.8L1121.6 1247.9z" fill="#fff" stroke="#A000C8" stroke-width="3"/>
<path d="M1090.7 1246.5L1094.9 1256.7L1105.9 1257.6L1097.5 1264.7L1100.1 1275.4L1090.7 1269.7L1081.3 1275.4L1083.9 1264.7L1075.5 1257.6L1086.5 1256.7z" fill="#fff" stroke="#A000C8" stroke-width="3"/>
<path d="M1043.9 1253.8L1048.1 1264.0L1059.1 1264.9L1050.7 1272.0L1053.3 1282.7L1043.9 1277.0L1034.5 1282.7L1037.1 1272.0L1028.7 1264.9L1039.7 1264.0z" fill="#fff" stroke="#A000C8" stroke-width="3"/>
<path d="M997.0 1259.1L1001.2 1269.3L1012.2 1270.2L1003.8 1277.3L1006.4 1288.0L997.0 1282.3L987.6 1288.0L990.2 1277.3L981.8 1270.2L992.8 1269.3z" fill="#fff" stroke="#A000C8" stroke-width="3"/>
<path d="M960.0 1264.2L964.2 1274.4L975.2 1275.3L966.8 1282.4L969.4 1293.1L960.0 1287.4L950.6 1293.1L953.2 1282.4L944.8 1275.3L955.8 1274.4z" fill="#fff" stroke="#A000C8" stroke-width="3"/>
</g>
<text x="366.8" y="1722.1" text-anchor="middle" style="font-family:'Liberation Serif','Times New Roman',serif;font-size:75px">0.0</text>
<text x="703.2" y="1722.1" text-anchor="middle" style="font-family:'Liberation Serif','Times New Roman',serif;font-size:75px">0.2</text>
<text x="1039.7" y="1722.1" text-anchor="middle" style="font-family:'Liberation Serif','Times New Roman',serif;font-size:75px">0.4</text>
<text x="1376.1" y="1722.1" text-anchor="middle" style="font-family:'Liberation Serif','Times New Roman',serif;font-size:75px">0.6</text>
<text x="1712.6" y="1722.1" text-anchor="middle" style="font-family:'Liberation Serif','Times New Roman',serif;font-size:75px">0.8</text>
<text x="2049.0" y="1722.1" text-anchor="middle" style="font-family:'Liberation Serif','Times New Roman',serif;font-size:75px">1.0</text>
<text x="326.8" y="1647.3" text-anchor="end" style="font-family:'Liberation Serif','Times New Roman',serif;font-size:74.5px">0</text>
<text x="326.8" y="1319.2" text-anchor="end" style="font-family:'Liberation Serif','Times New Roman',serif;font-size:74.5px">50</text>
<text x="326.8" y="991.1" text-anchor="end" style="font-family:'Liberation Serif','Times New Roman',serif;font-size:74.5px">100</text>
<text x="326.8" y="663.1" text-anchor="end" style="font-family:'Liberation Serif','Times New Roman',serif;font-size:74.5px">150</text>
<text x="326.8" y="335.0" text-anchor="end" style="font-family:'Liberation Serif','Times New Roman',serif;font-size:74.5px">200</text>
<text x="796.8" y="1841.8" style="font-family:'Liberation Serif','Times New Roman',serif;font-size:73.7px;font-weight:bold">Relative Pressure (P/P<tspan font-size="49" dy="20">0</tspan><tspan dy="-20">)</tspan></text>
<text transform="translate(117.5,1154.5) rotate(-90)" x="0" y="0" style="font-family:'Liberation Serif','Times New Roman',serif;font-size:75px;font-weight:bold">Vads STP (cm<tspan font-size="50" dy="-29">3</tspan><tspan dy="29"> g</tspan><tspan font-size="50" dy="-29">-1</tspan><tspan dy="29">)</tspan></text>
<rect x="498" y="364.7" width="363.4" height="475.1" fill="#fff" stroke="#000" stroke-width="3.3"/>
<path d="M505.3 410.3H567 M598 410.3H659.6" stroke="#000000" stroke-width="2.6"/>
<path d="M569.0 397.1h26.5v26.5h-26.5z" fill="#000000"/>
<text x="676" y="434.2" style="font-family:'Liberation Serif','Times New Roman',serif;font-size:68px">Al</text>
<path d="M505.3 494H567 M598 494H659.6" stroke="#FF0000" stroke-width="2.6"/>
<path d="M567.0 494.0a15.2 15.2 0 1 0 30.5 0a15.2 15.2 0 1 0 -30.5 0z" fill="#FF0000"/>
<text x="676" y="517.6" style="font-family:'Liberation Serif','Times New Roman',serif;font-size:68px">Al<tspan font-size="45" dy="18">7</tspan><tspan dy="-18">Zr</tspan><tspan font-size="45" dy="18">3</tspan></text>
<path d="M505.3 593.3H567 M598 593.3H659.6" stroke="#00D08C" stroke-width="2.6"/>
<path d="M582.3 574.5L601.0 593.3L582.3 612.0L563.5 593.3z" fill="#00D08C"/>
<text x="676" y="616.3" style="font-family:'Liberation Serif','Times New Roman',serif;font-size:68px">Al<tspan font-size="45" dy="18">5</tspan><tspan dy="-18">Zr</tspan><tspan font-size="45" dy="18">5</tspan></text>
<path d="M505.3 693.3H567 M598 693.3H659.6" stroke="#0000FF" stroke-width="2.6"/>
<path d="M582.3 672.8L600.0 703.8L564.5 703.8z" fill="#0000FF"/>
<text x="676" y="716.4" style="font-family:'Liberation Serif','Times New Roman',serif;font-size:68px">Al<tspan font-size="45" dy="18">3</tspan><tspan dy="-18">Zr</tspan><tspan font-size="45" dy="18">7</tspan></text>
<path d="M505.3 792.3H567 M598 792.3H659.6" stroke="#A000C8" stroke-width="2.6"/>
<path d="M582.3 774.8L587.0 786.0L599.0 787.0L589.8 794.8L592.6 806.6L582.3 800.3L572.0 806.6L574.8 794.8L565.6 787.0L577.6 786.0z" fill="#A000C8"/>
<text x="676" y="815" style="font-family:'Liberation Serif','Times New Roman',serif;font-size:68px">Zr</text>
<text x="1068" y="2030" text-anchor="middle" style="font-family:'Liberation Serif','Times New Roman',serif;font-size:85px">(<tspan font-weight="bold">B</tspan>)</text>
<path d="M568.5 2493.6 L576.7 2493.6 L583.3 2326.4 L587.6 2493.6 L594.8 2457.4 L604.1 2493.6 L627.8 2493.6 L633.7 2431.0 L640.9 2446.9 L649.8 2435.0 L657.4 2434.3 L666.6 2451.5 L677.1 2444.2 L690.3 2430.4 L701.2 2421.2 L713.3 2416.9 L727.5 2426.8 L744.0 2418.9 L757.8 2435.0 L777.5 2444.9 L794.0 2445.2 L814.7 2464.0 L835.1 2469.9 L861.5 2475.5 L900.0 2482.1 L950.0 2486.5 L1000.0 2489.0 L1079.0 2490.5 L1654.0 2491.0" stroke="#000" stroke-width="4.6" fill="none" stroke-linejoin="round" stroke-linecap="round"/>
<path d="M602.3 2847.3 L620.8 2847.3 L628.2 2560.6 L633.5 2515.1 L637.6 2601.0 L641.0 2718.7 L649.4 2814.6 L657.1 2826.4 L666.9 2769.2 L678.0 2792.1 L688.1 2768.2 L698.2 2769.2 L713.3 2776.6 L730.1 2776.6 L742.9 2778.3 L758.7 2806.2 L775.6 2812.3 L795.7 2824.7 L814.3 2839.9 L837.8 2839.9 L861.4 2847.3 L1654.0 2847.3" stroke="#000" stroke-width="4.6" fill="none" stroke-linejoin="round" stroke-linecap="round"/>
<path d="M567.6 3094.8 L577.0 3094.8 L580.4 2853.6 L587.1 3094.8 L599.2 3025.2 L603.3 3094.8 L621.4 3094.8 L633.5 2971.3 L641.0 3018.4 L650.4 2993.2 L657.8 2994.9 L666.9 3029.2 L678.0 3018.4 L688.1 3004.3 L701.5 2996.6 L715.0 2994.2 L727.8 2990.8 L743.6 2979.7 L758.7 3005.7 L775.6 3020.1 L795.1 3024.5 L814.3 3054.8 L837.8 3067.2 L859.7 3073.0 L886.6 3079.7 L913.5 3084.7 L943.8 3088.1 L1000.0 3090.8 L1044.7 3091.5 L1308.0 3093.0 L1654.0 3093.0" stroke="#000" stroke-width="4.6" fill="none" stroke-linejoin="round" stroke-linecap="round"/>
<path d="M572.6 3378.2 L580.4 3378.2 L583.1 3330.0 L586.4 3378.2 L590.5 3271.1 L598.9 3378.2 L620.8 3378.2 L628.2 3344.5 L633.5 3079.0 L640.3 3278.9 L651.0 3291.3 L666.2 3326.7 L678.0 3336.1 L688.1 3338.4 L726.8 3239.2 L742.9 3183.7 L759.4 3192.1 L777.2 3183.7 L795.1 3141.3 L815.3 3187.0 L837.8 3191.4 L861.4 3191.1 L886.6 3200.2 L913.5 3208.9 L942.1 3225.7 L974.1 3239.2 L1000.0 3251.0 L1047.2 3273.1 L1089.4 3308.9 L1134.2 3320.3 L1181.5 3322.8 L1233.7 3337.7 L1288.4 3356.2 L1353.1 3363.6 L1417.7 3368.6 L1477.4 3372.6 L1576.9 3375.1 L1654.0 3376.0" stroke="#000" stroke-width="4.6" fill="none" stroke-linejoin="round" stroke-linecap="round"/>
<path d="M602.3 3689.4 L620.8 3689.4 L635.9 3343.5 L641.0 3342.5 L649.4 3657.4 L657.8 3689.4 L666.9 3608.0 L678.0 3681.0 L688.1 3685.4 L700.9 3675.9 L742.9 3522.8 L759.4 3527.2 L777.2 3493.5 L794.7 3447.8 L814.9 3483.5 L837.8 3461.2 L861.4 3448.8 L886.6 3432.0 L914.2 3425.2 L942.1 3431.3 L974.1 3448.8 L1000.0 3463.9 L1012.3 3471.1 L1049.6 3507.9 L1089.4 3571.5 L1134.2 3597.9 L1181.5 3608.8 L1233.7 3638.7 L1288.4 3666.1 L1348.1 3675.0 L1407.8 3683.5 L1477.4 3687.0 L1654.0 3689.4" stroke="#000" stroke-width="4.6" fill="none" stroke-linejoin="round" stroke-linecap="round"/>
<rect x="540.3" y="2301.0" width="1114.2" height="1408.0" fill="none" stroke="#000" stroke-width="10"/>
<path d="M540.3 3709.0V3756.0 M651.7 3709.0V3732.0 M763.1 3709.0V3756.0 M874.6 3709.0V3732.0 M986.0 3709.0V3756.0 M1097.4 3709.0V3732.0 M1208.8 3709.0V3756.0 M1320.2 3709.0V3732.0 M1431.7 3709.0V3756.0 M1543.1 3709.0V3732.0 M1654.5 3709.0V3756.0" stroke="#000" stroke-width="9.5" fill="none"/>
<text x="540.3" y="3851" text-anchor="middle" style="font-family:'Liberation Serif','Times New Roman',serif;font-size:79px">0</text>
<text x="763.1" y="3851" text-anchor="middle" style="font-family:'Liberation Serif','Times New Roman',serif;font-size:79px">3</text>
<text x="986.0" y="3851" text-anchor="middle" style="font-family:'Liberation Serif','Times New Roman',serif;font-size:79px">6</text>
<text x="1208.8" y="3851" text-anchor="middle" style="font-family:'Liberation Serif','Times New Roman',serif;font-size:79px">9</text>
<text x="1431.7" y="3851" text-anchor="middle" style="font-family:'Liberation Serif','Times New Roman',serif;font-size:79px">12</text>
<text x="1654.5" y="3851" text-anchor="middle" style="font-family:'Liberation Serif','Times New Roman',serif;font-size:79px">15</text>
<text x="1098" y="3988.5" text-anchor="middle" style="font-family:'Liberation Serif','Times New Roman',serif;font-size:82px;font-weight:bold">Pore width (nm)</text>
<text transform="translate(413.7,3677) rotate(-90)" x="0" y="0" style="font-family:'Liberation Serif','Times New Roman',serif;font-size:81.5px;font-weight:bold">Differential pore volume (cm<tspan font-size="54" dy="-33">3</tspan><tspan dy="33"> g</tspan><tspan font-size="54" dy="-33">-1</tspan><tspan dy="33"> nm</tspan><tspan font-size="54" dy="-33">-1</tspan><tspan dy="33">)</tspan></text>
<path d="M1165.6 2542.5V2822.5 M1144.5 2542.5H1187 M1144.5 2822.5H1187" stroke="#000" stroke-width="8" fill="none"/>
<text x="1119.5" y="2699.5" text-anchor="end" style="font-family:'Liberation Serif','Times New Roman',serif;font-size:67px">5</text>
<text x="1613.5" y="2431.8" text-anchor="end" style="font-family:'Liberation Serif','Times New Roman',serif;font-size:90px">Zr</text>
<text x="1400" y="2800.5" style="font-family:'Liberation Serif','Times New Roman',serif;font-size:89px">Al<tspan font-size="61" dy="24">3</tspan><tspan dy="-24">Zr</tspan><tspan font-size="61" dy="24">7</tspan></text>
<text x="1400" y="3024.4" style="font-family:'Liberation Serif','Times New Roman',serif;font-size:89px">Al<tspan font-size="61" dy="24">5</tspan><tspan dy="-24">Zr</tspan><tspan font-size="61" dy="24">5</tspan></text>
<text x="1400" y="3321.8" style="font-family:'Liberation Serif','Times New Roman',serif;font-size:89px">Al<tspan font-size="61" dy="24">7</tspan><tspan dy="-24">Zr</tspan><tspan font-size="61" dy="24">3</tspan></text>
<text x="1506" y="3646.2" style="font-family:'Liberation Serif','Times New Roman',serif;font-size:89px">Al</text>
</svg></body></html>
